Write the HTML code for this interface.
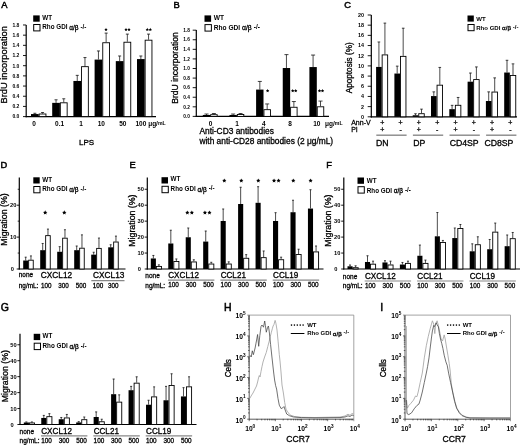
<!DOCTYPE html>
<html><head><meta charset="utf-8"><title>Figure</title>
<style>
html,body{margin:0;padding:0;background:#fff;}
body{width:520px;height:445px;overflow:hidden;font-family:"Liberation Sans",sans-serif;}
svg{display:block;font-family:"Liberation Sans",sans-serif;}
</style></head><body>
<svg width="520" height="445" viewBox="0 0 520 445" font-family="Liberation Sans, sans-serif">
<rect x="0" y="0" width="520" height="445" fill="#fff"/>
<g filter="url(#soft)">
<text x="1.20" y="7.80" font-size="9.3" fill="#000" stroke="#000" stroke-width="0.5">A</text>
<rect x="33.20" y="15.40" width="6.50" height="6.30" fill="#000"/>
<rect x="33.70" y="24.50" width="6.30" height="6.40" fill="#fff" stroke="#000" stroke-width="1.0"/>
<text x="42.30" y="20.00" font-size="6.3" text-anchor="start" font-weight="bold" fill="#000" >WT</text>
<g transform="translate(42.30,29.30) scale(0.1)"><text x="0" y="0" font-size="63.0" fill="#000" font-weight="bold">Rho GDI <tspan font-size="64.9" dy="6.0" font-weight="normal" stroke="#000" stroke-width="3.0">α/β</tspan><tspan font-size="63.0" dy="-11.0" dx="2.0"> -/-</tspan></text></g>
<line x1="26.20" y1="25.00" x2="26.20" y2="117.20" stroke="#000" stroke-width="1.2"/>
<line x1="25.60" y1="116.60" x2="156.00" y2="116.60" stroke="#000" stroke-width="1.2"/>
<line x1="23.00" y1="116.60" x2="26.20" y2="116.60" stroke="#000" stroke-width="0.9"/>
<text x="19.40" y="118.40" font-size="5.0" text-anchor="end" font-weight="bold" fill="#000" >0.0</text>
<line x1="23.00" y1="106.42" x2="26.20" y2="106.42" stroke="#000" stroke-width="0.9"/>
<text x="19.40" y="108.22" font-size="5.0" text-anchor="end" font-weight="bold" fill="#000" >0.2</text>
<line x1="23.00" y1="96.24" x2="26.20" y2="96.24" stroke="#000" stroke-width="0.9"/>
<text x="19.40" y="98.04" font-size="5.0" text-anchor="end" font-weight="bold" fill="#000" >0.4</text>
<line x1="23.00" y1="86.06" x2="26.20" y2="86.06" stroke="#000" stroke-width="0.9"/>
<text x="19.40" y="87.86" font-size="5.0" text-anchor="end" font-weight="bold" fill="#000" >0.6</text>
<line x1="23.00" y1="75.88" x2="26.20" y2="75.88" stroke="#000" stroke-width="0.9"/>
<text x="19.40" y="77.68" font-size="5.0" text-anchor="end" font-weight="bold" fill="#000" >0.8</text>
<line x1="23.00" y1="65.70" x2="26.20" y2="65.70" stroke="#000" stroke-width="0.9"/>
<text x="19.40" y="67.50" font-size="5.0" text-anchor="end" font-weight="bold" fill="#000" >1.0</text>
<line x1="23.00" y1="55.52" x2="26.20" y2="55.52" stroke="#000" stroke-width="0.9"/>
<text x="19.40" y="57.32" font-size="5.0" text-anchor="end" font-weight="bold" fill="#000" >1.2</text>
<line x1="23.00" y1="45.34" x2="26.20" y2="45.34" stroke="#000" stroke-width="0.9"/>
<text x="19.40" y="47.14" font-size="5.0" text-anchor="end" font-weight="bold" fill="#000" >1.4</text>
<line x1="23.00" y1="35.16" x2="26.20" y2="35.16" stroke="#000" stroke-width="0.9"/>
<text x="19.40" y="36.96" font-size="5.0" text-anchor="end" font-weight="bold" fill="#000" >1.6</text>
<line x1="23.00" y1="24.98" x2="26.20" y2="24.98" stroke="#000" stroke-width="0.9"/>
<text x="19.40" y="26.78" font-size="5.0" text-anchor="end" font-weight="bold" fill="#000" >1.8</text>
<text transform="translate(7.20,64.80) rotate(-90)" font-size="9.3" text-anchor="middle" font-weight="normal" fill="#000" stroke="#000" stroke-width="0.3">BrdU incorporation</text>
<rect x="31.00" y="114.05" width="7.70" height="2.54" fill="#000"/>
<rect x="39.15" y="114.00" width="6.80" height="2.60" fill="#fff" stroke="#000" stroke-width="0.9"/>
<line x1="34.85" y1="114.05" x2="34.85" y2="113.29" stroke="#111" stroke-width="0.75"/>
<line x1="33.35" y1="113.29" x2="36.35" y2="113.29" stroke="#111" stroke-width="0.8"/>
<line x1="42.55" y1="113.55" x2="42.55" y2="112.53" stroke="#111" stroke-width="0.75"/>
<line x1="41.05" y1="112.53" x2="44.05" y2="112.53" stroke="#111" stroke-width="0.8"/>
<rect x="52.20" y="102.86" width="7.70" height="13.74" fill="#000"/>
<rect x="60.35" y="102.80" width="6.80" height="13.80" fill="#fff" stroke="#000" stroke-width="0.9"/>
<line x1="56.05" y1="102.86" x2="56.05" y2="99.80" stroke="#111" stroke-width="0.75"/>
<line x1="54.55" y1="99.80" x2="57.55" y2="99.80" stroke="#111" stroke-width="0.8"/>
<line x1="63.75" y1="102.35" x2="63.75" y2="98.78" stroke="#111" stroke-width="0.75"/>
<line x1="62.25" y1="98.78" x2="65.25" y2="98.78" stroke="#111" stroke-width="0.8"/>
<rect x="73.40" y="80.97" width="7.70" height="35.63" fill="#000"/>
<rect x="81.55" y="66.66" width="6.80" height="49.94" fill="#fff" stroke="#000" stroke-width="0.9"/>
<line x1="77.25" y1="80.97" x2="77.25" y2="75.37" stroke="#111" stroke-width="0.75"/>
<line x1="75.75" y1="75.37" x2="78.75" y2="75.37" stroke="#111" stroke-width="0.8"/>
<line x1="84.95" y1="66.21" x2="84.95" y2="57.56" stroke="#111" stroke-width="0.75"/>
<line x1="83.45" y1="57.56" x2="86.45" y2="57.56" stroke="#111" stroke-width="0.8"/>
<rect x="94.60" y="59.59" width="7.70" height="57.01" fill="#000"/>
<rect x="102.75" y="42.74" width="6.80" height="73.86" fill="#fff" stroke="#000" stroke-width="0.9"/>
<line x1="98.45" y1="59.59" x2="98.45" y2="50.94" stroke="#111" stroke-width="0.75"/>
<line x1="96.95" y1="50.94" x2="99.95" y2="50.94" stroke="#111" stroke-width="0.8"/>
<line x1="106.15" y1="42.29" x2="106.15" y2="33.12" stroke="#111" stroke-width="0.75"/>
<line x1="104.65" y1="33.12" x2="107.65" y2="33.12" stroke="#111" stroke-width="0.8"/>
<rect x="115.80" y="61.12" width="7.70" height="55.48" fill="#000"/>
<rect x="123.95" y="42.23" width="6.80" height="74.37" fill="#fff" stroke="#000" stroke-width="0.9"/>
<line x1="119.65" y1="61.12" x2="119.65" y2="56.03" stroke="#111" stroke-width="0.75"/>
<line x1="118.15" y1="56.03" x2="121.15" y2="56.03" stroke="#111" stroke-width="0.8"/>
<line x1="127.35" y1="41.78" x2="127.35" y2="34.14" stroke="#111" stroke-width="0.75"/>
<line x1="125.85" y1="34.14" x2="128.85" y2="34.14" stroke="#111" stroke-width="0.8"/>
<rect x="137.00" y="59.08" width="7.70" height="57.52" fill="#000"/>
<rect x="145.15" y="40.19" width="6.80" height="76.41" fill="#fff" stroke="#000" stroke-width="0.9"/>
<line x1="140.85" y1="59.08" x2="140.85" y2="56.03" stroke="#111" stroke-width="0.75"/>
<line x1="139.35" y1="56.03" x2="142.35" y2="56.03" stroke="#111" stroke-width="0.8"/>
<line x1="148.55" y1="39.74" x2="148.55" y2="34.14" stroke="#111" stroke-width="0.75"/>
<line x1="147.05" y1="34.14" x2="150.05" y2="34.14" stroke="#111" stroke-width="0.8"/>
<text x="34.00" y="126.40" font-size="6.5" text-anchor="middle" font-weight="bold" fill="#000" >0</text>
<text x="59.60" y="126.40" font-size="6.5" text-anchor="middle" font-weight="bold" fill="#000" >0.1</text>
<text x="81.00" y="126.40" font-size="6.5" text-anchor="middle" font-weight="bold" fill="#000" >1</text>
<text x="101.30" y="126.40" font-size="6.5" text-anchor="middle" font-weight="bold" fill="#000" >10</text>
<text x="122.80" y="126.40" font-size="6.5" text-anchor="middle" font-weight="bold" fill="#000" >50</text>
<text x="135.5" y="126.4" font-size="6.5" font-weight="bold" fill="#000">100 μg/<tspan font-size="5.2" dy="-1.2">mL</tspan></text>
<polygon points="106.00,27.80 106.51,28.90 107.71,29.04 106.82,29.87 107.06,31.06 106.00,30.46 104.94,31.06 105.18,29.87 104.29,29.04 105.49,28.90" fill="#000"/>
<polygon points="126.00,27.80 126.51,28.90 127.71,29.04 126.82,29.87 127.06,31.06 126.00,30.46 124.94,31.06 125.18,29.87 124.29,29.04 125.49,28.90" fill="#000"/>
<polygon points="129.00,27.80 129.51,28.90 130.71,29.04 129.82,29.87 130.06,31.06 129.00,30.46 127.94,31.06 128.18,29.87 127.29,29.04 128.49,28.90" fill="#000"/>
<polygon points="147.30,27.80 147.81,28.90 149.01,29.04 148.12,29.87 148.36,31.06 147.30,30.46 146.24,31.06 146.48,29.87 145.59,29.04 146.79,28.90" fill="#000"/>
<polygon points="150.30,27.80 150.81,28.90 152.01,29.04 151.12,29.87 151.36,31.06 150.30,30.46 149.24,31.06 149.48,29.87 148.59,29.04 149.79,28.90" fill="#000"/>
<text x="79.00" y="145.30" font-size="8.0" text-anchor="start" font-weight="normal" fill="#000"  stroke="#000" stroke-width="0.3">LPS</text>
<text x="173.40" y="7.80" font-size="9.3" fill="#000" stroke="#000" stroke-width="0.5">B</text>
<rect x="204.50" y="15.40" width="6.60" height="6.40" fill="#000"/>
<rect x="205.00" y="24.60" width="6.40" height="6.50" fill="#fff" stroke="#000" stroke-width="1.0"/>
<text x="213.80" y="20.30" font-size="6.6" text-anchor="start" font-weight="bold" fill="#000" >WT</text>
<g transform="translate(213.80,29.70) scale(0.1)"><text x="0" y="0" font-size="66.0" fill="#000" font-weight="bold">Rho GDI <tspan font-size="68.0" dy="6.0" font-weight="normal" stroke="#000" stroke-width="3.0">α/β</tspan><tspan font-size="66.0" dy="-11.0" dx="2.0"> -/-</tspan></text></g>
<line x1="196.30" y1="30.00" x2="196.30" y2="117.00" stroke="#000" stroke-width="1.2"/>
<line x1="195.70" y1="116.40" x2="329.00" y2="116.40" stroke="#000" stroke-width="1.2"/>
<line x1="192.70" y1="116.40" x2="196.30" y2="116.40" stroke="#000" stroke-width="0.9"/>
<text x="189.90" y="118.13" font-size="4.8" text-anchor="end" font-weight="bold" fill="#000" >0.0</text>
<line x1="192.70" y1="106.82" x2="196.30" y2="106.82" stroke="#000" stroke-width="0.9"/>
<text x="189.90" y="108.55" font-size="4.8" text-anchor="end" font-weight="bold" fill="#000" >0.2</text>
<line x1="192.70" y1="97.24" x2="196.30" y2="97.24" stroke="#000" stroke-width="0.9"/>
<text x="189.90" y="98.97" font-size="4.8" text-anchor="end" font-weight="bold" fill="#000" >0.4</text>
<line x1="192.70" y1="87.66" x2="196.30" y2="87.66" stroke="#000" stroke-width="0.9"/>
<text x="189.90" y="89.39" font-size="4.8" text-anchor="end" font-weight="bold" fill="#000" >0.6</text>
<line x1="192.70" y1="78.08" x2="196.30" y2="78.08" stroke="#000" stroke-width="0.9"/>
<text x="189.90" y="79.81" font-size="4.8" text-anchor="end" font-weight="bold" fill="#000" >0.8</text>
<line x1="192.70" y1="68.50" x2="196.30" y2="68.50" stroke="#000" stroke-width="0.9"/>
<text x="189.90" y="70.23" font-size="4.8" text-anchor="end" font-weight="bold" fill="#000" >1.0</text>
<line x1="192.70" y1="58.92" x2="196.30" y2="58.92" stroke="#000" stroke-width="0.9"/>
<text x="189.90" y="60.65" font-size="4.8" text-anchor="end" font-weight="bold" fill="#000" >1.2</text>
<line x1="192.70" y1="49.34" x2="196.30" y2="49.34" stroke="#000" stroke-width="0.9"/>
<text x="189.90" y="51.07" font-size="4.8" text-anchor="end" font-weight="bold" fill="#000" >1.4</text>
<line x1="192.70" y1="39.76" x2="196.30" y2="39.76" stroke="#000" stroke-width="0.9"/>
<text x="189.90" y="41.49" font-size="4.8" text-anchor="end" font-weight="bold" fill="#000" >1.6</text>
<line x1="192.70" y1="30.18" x2="196.30" y2="30.18" stroke="#000" stroke-width="0.9"/>
<text x="189.90" y="31.91" font-size="4.8" text-anchor="end" font-weight="bold" fill="#000" >1.8</text>
<text transform="translate(178.20,68.00) rotate(-90)" font-size="8.6" text-anchor="middle" font-weight="normal" fill="#000" stroke="#000" stroke-width="0.3">BrdU incorporation</text>
<rect x="202.80" y="114.96" width="7.40" height="1.44" fill="#000"/>
<rect x="210.65" y="114.69" width="6.50" height="1.71" fill="#fff" stroke="#000" stroke-width="0.9"/>
<line x1="206.50" y1="114.96" x2="206.50" y2="114.01" stroke="#111" stroke-width="0.75"/>
<line x1="204.50" y1="114.01" x2="208.50" y2="114.01" stroke="#111" stroke-width="0.8"/>
<line x1="213.90" y1="114.24" x2="213.90" y2="113.53" stroke="#111" stroke-width="0.75"/>
<line x1="211.90" y1="113.53" x2="215.90" y2="113.53" stroke="#111" stroke-width="0.8"/>
<rect x="229.45" y="114.96" width="7.40" height="1.44" fill="#000"/>
<rect x="237.30" y="114.46" width="6.50" height="1.95" fill="#fff" stroke="#000" stroke-width="0.9"/>
<line x1="233.15" y1="114.96" x2="233.15" y2="114.01" stroke="#111" stroke-width="0.75"/>
<line x1="231.15" y1="114.01" x2="235.15" y2="114.01" stroke="#111" stroke-width="0.8"/>
<line x1="240.55" y1="114.01" x2="240.55" y2="113.53" stroke="#111" stroke-width="0.75"/>
<line x1="238.55" y1="113.53" x2="242.55" y2="113.53" stroke="#111" stroke-width="0.8"/>
<rect x="256.10" y="89.58" width="7.40" height="26.82" fill="#000"/>
<rect x="263.95" y="109.67" width="6.50" height="6.73" fill="#fff" stroke="#000" stroke-width="0.9"/>
<line x1="259.80" y1="89.58" x2="259.80" y2="81.43" stroke="#111" stroke-width="0.75"/>
<line x1="257.80" y1="81.43" x2="261.80" y2="81.43" stroke="#111" stroke-width="0.8"/>
<line x1="267.20" y1="109.22" x2="267.20" y2="103.95" stroke="#111" stroke-width="0.75"/>
<line x1="265.20" y1="103.95" x2="269.20" y2="103.95" stroke="#111" stroke-width="0.8"/>
<rect x="282.75" y="68.02" width="7.40" height="48.38" fill="#000"/>
<rect x="290.60" y="107.27" width="6.50" height="9.13" fill="#fff" stroke="#000" stroke-width="0.9"/>
<line x1="286.45" y1="68.02" x2="286.45" y2="54.61" stroke="#111" stroke-width="0.75"/>
<line x1="284.45" y1="54.61" x2="288.45" y2="54.61" stroke="#111" stroke-width="0.8"/>
<line x1="293.85" y1="106.82" x2="293.85" y2="101.55" stroke="#111" stroke-width="0.75"/>
<line x1="291.85" y1="101.55" x2="295.85" y2="101.55" stroke="#111" stroke-width="0.8"/>
<rect x="309.40" y="67.06" width="7.40" height="49.34" fill="#000"/>
<rect x="317.25" y="106.79" width="6.50" height="9.61" fill="#fff" stroke="#000" stroke-width="0.9"/>
<line x1="313.10" y1="67.06" x2="313.10" y2="55.09" stroke="#111" stroke-width="0.75"/>
<line x1="311.10" y1="55.09" x2="315.10" y2="55.09" stroke="#111" stroke-width="0.8"/>
<line x1="320.50" y1="106.34" x2="320.50" y2="101.07" stroke="#111" stroke-width="0.75"/>
<line x1="318.50" y1="101.07" x2="322.50" y2="101.07" stroke="#111" stroke-width="0.8"/>
<text x="210.50" y="126.10" font-size="6.5" text-anchor="middle" font-weight="bold" fill="#000" >0</text>
<text x="237.00" y="126.10" font-size="6.5" text-anchor="middle" font-weight="bold" fill="#000" >1</text>
<text x="263.80" y="126.10" font-size="6.5" text-anchor="middle" font-weight="bold" fill="#000" >4</text>
<text x="290.00" y="126.10" font-size="6.5" text-anchor="middle" font-weight="bold" fill="#000" >8</text>
<text x="316.80" y="126.10" font-size="6.5" text-anchor="middle" font-weight="bold" fill="#000" >10</text>
<text x="325" y="126.1" font-size="6.5" font-weight="bold" fill="#000">μg/<tspan font-size="5.2" dy="-1.2">mL</tspan></text>
<polygon points="267.60,89.00 268.11,90.10 269.31,90.24 268.42,91.07 268.66,92.26 267.60,91.66 266.54,92.26 266.78,91.07 265.89,90.24 267.09,90.10" fill="#000"/>
<polygon points="292.70,89.00 293.21,90.10 294.41,90.24 293.52,91.07 293.76,92.26 292.70,91.66 291.64,92.26 291.88,91.07 290.99,90.24 292.19,90.10" fill="#000"/>
<polygon points="295.70,89.00 296.21,90.10 297.41,90.24 296.52,91.07 296.76,92.26 295.70,91.66 294.64,92.26 294.88,91.07 293.99,90.24 295.19,90.10" fill="#000"/>
<polygon points="319.50,89.00 320.01,90.10 321.21,90.24 320.32,91.07 320.56,92.26 319.50,91.66 318.44,92.26 318.68,91.07 317.79,90.24 318.99,90.10" fill="#000"/>
<polygon points="322.50,89.00 323.01,90.10 324.21,90.24 323.32,91.07 323.56,92.26 322.50,91.66 321.44,92.26 321.68,91.07 320.79,90.24 321.99,90.10" fill="#000"/>
<text x="199.40" y="134.00" font-size="8.4" text-anchor="start" font-weight="normal" fill="#000"  stroke="#000" stroke-width="0.3">Anti-CD3 antibodies</text>
<text x="199.40" y="144.00" font-size="8.4" text-anchor="start" font-weight="normal" fill="#000"  stroke="#000" stroke-width="0.3">with anti-CD28 antibodies (2 μg/mL)</text>
<text x="344.30" y="7.80" font-size="9.3" fill="#000" stroke="#000" stroke-width="0.5">C</text>
<rect x="467.50" y="15.50" width="6.30" height="6.10" fill="#000"/>
<rect x="468.00" y="24.50" width="6.10" height="6.20" fill="#fff" stroke="#000" stroke-width="1.0"/>
<text x="476.20" y="20.60" font-size="6.05" text-anchor="start" font-weight="bold" fill="#000" >WT</text>
<g transform="translate(476.20,29.70) scale(0.1)"><text x="0" y="0" font-size="60.5" fill="#000" font-weight="bold">Rho GDI <tspan font-size="62.3" dy="6.0" font-weight="normal" stroke="#000" stroke-width="3.0">α/β</tspan><tspan font-size="60.5" dy="-11.0" dx="2.0"> -/-</tspan></text></g>
<line x1="371.30" y1="15.00" x2="371.30" y2="117.40" stroke="#000" stroke-width="1.2"/>
<line x1="370.70" y1="116.80" x2="517.00" y2="116.80" stroke="#000" stroke-width="1.2"/>
<line x1="367.70" y1="116.80" x2="371.30" y2="116.80" stroke="#000" stroke-width="0.9"/>
<text x="363.90" y="118.74" font-size="5.4" text-anchor="end" font-weight="bold" fill="#000" >0</text>
<line x1="367.70" y1="106.62" x2="371.30" y2="106.62" stroke="#000" stroke-width="0.9"/>
<text x="363.90" y="108.56" font-size="5.4" text-anchor="end" font-weight="bold" fill="#000" >2</text>
<line x1="367.70" y1="96.44" x2="371.30" y2="96.44" stroke="#000" stroke-width="0.9"/>
<text x="363.90" y="98.38" font-size="5.4" text-anchor="end" font-weight="bold" fill="#000" >4</text>
<line x1="367.70" y1="86.26" x2="371.30" y2="86.26" stroke="#000" stroke-width="0.9"/>
<text x="363.90" y="88.20" font-size="5.4" text-anchor="end" font-weight="bold" fill="#000" >6</text>
<line x1="367.70" y1="76.08" x2="371.30" y2="76.08" stroke="#000" stroke-width="0.9"/>
<text x="363.90" y="78.02" font-size="5.4" text-anchor="end" font-weight="bold" fill="#000" >8</text>
<line x1="367.70" y1="65.90" x2="371.30" y2="65.90" stroke="#000" stroke-width="0.9"/>
<text x="363.90" y="67.84" font-size="5.4" text-anchor="end" font-weight="bold" fill="#000" >10</text>
<line x1="367.70" y1="55.72" x2="371.30" y2="55.72" stroke="#000" stroke-width="0.9"/>
<text x="363.90" y="57.66" font-size="5.4" text-anchor="end" font-weight="bold" fill="#000" >12</text>
<line x1="367.70" y1="45.54" x2="371.30" y2="45.54" stroke="#000" stroke-width="0.9"/>
<text x="363.90" y="47.48" font-size="5.4" text-anchor="end" font-weight="bold" fill="#000" >14</text>
<line x1="367.70" y1="35.36" x2="371.30" y2="35.36" stroke="#000" stroke-width="0.9"/>
<text x="363.90" y="37.30" font-size="5.4" text-anchor="end" font-weight="bold" fill="#000" >16</text>
<line x1="367.70" y1="25.18" x2="371.30" y2="25.18" stroke="#000" stroke-width="0.9"/>
<text x="363.90" y="27.12" font-size="5.4" text-anchor="end" font-weight="bold" fill="#000" >18</text>
<line x1="367.70" y1="15.00" x2="371.30" y2="15.00" stroke="#000" stroke-width="0.9"/>
<text x="363.90" y="16.94" font-size="5.4" text-anchor="end" font-weight="bold" fill="#000" >20</text>
<text transform="translate(351.60,67.80) rotate(-90)" font-size="8.2" text-anchor="middle" font-weight="normal" fill="#000" stroke="#000" stroke-width="0.3">Apoptosis (%)</text>
<rect x="376.10" y="66.92" width="5.60" height="49.88" fill="#000"/>
<rect x="382.15" y="54.90" width="5.50" height="61.90" fill="#fff" stroke="#000" stroke-width="0.9"/>
<line x1="378.90" y1="66.92" x2="378.90" y2="41.98" stroke="#111" stroke-width="0.75"/>
<line x1="377.60" y1="41.98" x2="380.20" y2="41.98" stroke="#111" stroke-width="0.8"/>
<line x1="384.90" y1="54.45" x2="384.90" y2="23.14" stroke="#111" stroke-width="0.75"/>
<line x1="383.60" y1="23.14" x2="386.20" y2="23.14" stroke="#111" stroke-width="0.8"/>
<rect x="394.40" y="73.53" width="5.60" height="43.27" fill="#000"/>
<rect x="400.45" y="56.37" width="5.50" height="60.43" fill="#fff" stroke="#000" stroke-width="0.9"/>
<line x1="397.20" y1="73.53" x2="397.20" y2="66.15" stroke="#111" stroke-width="0.75"/>
<line x1="395.90" y1="66.15" x2="398.50" y2="66.15" stroke="#111" stroke-width="0.8"/>
<line x1="403.20" y1="55.92" x2="403.20" y2="28.23" stroke="#111" stroke-width="0.75"/>
<line x1="401.90" y1="28.23" x2="404.50" y2="28.23" stroke="#111" stroke-width="0.8"/>
<rect x="412.70" y="115.27" width="5.60" height="1.53" fill="#000"/>
<rect x="418.75" y="113.69" width="5.50" height="3.11" fill="#fff" stroke="#000" stroke-width="0.9"/>
<line x1="415.50" y1="115.27" x2="415.50" y2="113.75" stroke="#111" stroke-width="0.75"/>
<line x1="414.20" y1="113.75" x2="416.80" y2="113.75" stroke="#111" stroke-width="0.8"/>
<line x1="421.50" y1="113.24" x2="421.50" y2="109.16" stroke="#111" stroke-width="0.75"/>
<line x1="420.20" y1="109.16" x2="422.80" y2="109.16" stroke="#111" stroke-width="0.8"/>
<rect x="431.00" y="96.08" width="5.60" height="20.72" fill="#000"/>
<rect x="437.05" y="85.18" width="5.50" height="31.62" fill="#fff" stroke="#000" stroke-width="0.9"/>
<line x1="433.80" y1="96.08" x2="433.80" y2="91.86" stroke="#111" stroke-width="0.75"/>
<line x1="432.50" y1="91.86" x2="435.10" y2="91.86" stroke="#111" stroke-width="0.8"/>
<line x1="439.80" y1="84.73" x2="439.80" y2="67.43" stroke="#111" stroke-width="0.75"/>
<line x1="438.50" y1="67.43" x2="441.10" y2="67.43" stroke="#111" stroke-width="0.8"/>
<rect x="449.30" y="109.16" width="5.60" height="7.63" fill="#000"/>
<rect x="455.35" y="105.29" width="5.50" height="11.51" fill="#fff" stroke="#000" stroke-width="0.9"/>
<line x1="452.10" y1="109.16" x2="452.10" y2="105.35" stroke="#111" stroke-width="0.75"/>
<line x1="450.80" y1="105.35" x2="453.40" y2="105.35" stroke="#111" stroke-width="0.8"/>
<line x1="458.10" y1="104.84" x2="458.10" y2="97.46" stroke="#111" stroke-width="0.75"/>
<line x1="456.80" y1="97.46" x2="459.40" y2="97.46" stroke="#111" stroke-width="0.8"/>
<rect x="467.60" y="81.68" width="5.60" height="35.12" fill="#000"/>
<rect x="473.65" y="79.58" width="5.50" height="37.22" fill="#fff" stroke="#000" stroke-width="0.9"/>
<line x1="470.40" y1="81.68" x2="470.40" y2="73.03" stroke="#111" stroke-width="0.75"/>
<line x1="469.10" y1="73.03" x2="471.70" y2="73.03" stroke="#111" stroke-width="0.8"/>
<line x1="476.40" y1="79.13" x2="476.40" y2="66.92" stroke="#111" stroke-width="0.75"/>
<line x1="475.10" y1="66.92" x2="477.70" y2="66.92" stroke="#111" stroke-width="0.8"/>
<rect x="485.90" y="101.02" width="5.60" height="15.78" fill="#000"/>
<rect x="491.95" y="92.05" width="5.50" height="24.75" fill="#fff" stroke="#000" stroke-width="0.9"/>
<line x1="488.70" y1="101.02" x2="488.70" y2="91.86" stroke="#111" stroke-width="0.75"/>
<line x1="487.40" y1="91.86" x2="490.00" y2="91.86" stroke="#111" stroke-width="0.8"/>
<line x1="494.70" y1="91.60" x2="494.70" y2="77.86" stroke="#111" stroke-width="0.75"/>
<line x1="493.40" y1="77.86" x2="496.00" y2="77.86" stroke="#111" stroke-width="0.8"/>
<rect x="504.20" y="72.52" width="5.60" height="44.28" fill="#000"/>
<rect x="510.25" y="75.51" width="5.50" height="41.29" fill="#fff" stroke="#000" stroke-width="0.9"/>
<line x1="507.00" y1="72.52" x2="507.00" y2="60.30" stroke="#111" stroke-width="0.75"/>
<line x1="505.70" y1="60.30" x2="508.30" y2="60.30" stroke="#111" stroke-width="0.8"/>
<line x1="513.00" y1="75.06" x2="513.00" y2="63.86" stroke="#111" stroke-width="0.75"/>
<line x1="511.70" y1="63.86" x2="514.30" y2="63.86" stroke="#111" stroke-width="0.8"/>
<text x="351.20" y="124.60" font-size="7" text-anchor="start" font-weight="normal" fill="#000"  stroke="#000" stroke-width="0.28">Ann-V</text>
<text x="351.20" y="132.20" font-size="7" text-anchor="start" font-weight="normal" fill="#000"  stroke="#000" stroke-width="0.28">PI</text>
<text x="382.30" y="124.80" font-size="7" text-anchor="middle" font-weight="normal" fill="#000"  stroke="#000" stroke-width="0.28">+</text>
<text x="382.30" y="132.30" font-size="7" text-anchor="middle" font-weight="normal" fill="#000"  stroke="#000" stroke-width="0.28">+</text>
<text x="400.60" y="124.80" font-size="7" text-anchor="middle" font-weight="normal" fill="#000"  stroke="#000" stroke-width="0.28">+</text>
<text x="400.60" y="132.30" font-size="7" text-anchor="middle" font-weight="normal" fill="#000"  stroke="#000" stroke-width="0.28">-</text>
<text x="418.90" y="124.80" font-size="7" text-anchor="middle" font-weight="normal" fill="#000"  stroke="#000" stroke-width="0.28">+</text>
<text x="418.90" y="132.30" font-size="7" text-anchor="middle" font-weight="normal" fill="#000"  stroke="#000" stroke-width="0.28">+</text>
<text x="437.20" y="124.80" font-size="7" text-anchor="middle" font-weight="normal" fill="#000"  stroke="#000" stroke-width="0.28">+</text>
<text x="437.20" y="132.30" font-size="7" text-anchor="middle" font-weight="normal" fill="#000"  stroke="#000" stroke-width="0.28">-</text>
<text x="455.50" y="124.80" font-size="7" text-anchor="middle" font-weight="normal" fill="#000"  stroke="#000" stroke-width="0.28">+</text>
<text x="455.50" y="132.30" font-size="7" text-anchor="middle" font-weight="normal" fill="#000"  stroke="#000" stroke-width="0.28">+</text>
<text x="473.80" y="124.80" font-size="7" text-anchor="middle" font-weight="normal" fill="#000"  stroke="#000" stroke-width="0.28">+</text>
<text x="473.80" y="132.30" font-size="7" text-anchor="middle" font-weight="normal" fill="#000"  stroke="#000" stroke-width="0.28">-</text>
<text x="492.10" y="124.80" font-size="7" text-anchor="middle" font-weight="normal" fill="#000"  stroke="#000" stroke-width="0.28">+</text>
<text x="492.10" y="132.30" font-size="7" text-anchor="middle" font-weight="normal" fill="#000"  stroke="#000" stroke-width="0.28">+</text>
<text x="510.40" y="124.80" font-size="7" text-anchor="middle" font-weight="normal" fill="#000"  stroke="#000" stroke-width="0.28">+</text>
<text x="510.40" y="132.30" font-size="7" text-anchor="middle" font-weight="normal" fill="#000"  stroke="#000" stroke-width="0.28">-</text>
<line x1="376.30" y1="135.20" x2="406.60" y2="135.20" stroke="#888" stroke-width="1.4"/>
<text x="376.00" y="145.60" font-size="8.7" text-anchor="start" font-weight="normal" fill="#000"  stroke="#000" stroke-width="0.3">DN</text>
<line x1="412.90" y1="135.20" x2="443.20" y2="135.20" stroke="#888" stroke-width="1.4"/>
<text x="413.30" y="145.60" font-size="8.7" text-anchor="start" font-weight="normal" fill="#000"  stroke="#000" stroke-width="0.3">DP</text>
<line x1="449.50" y1="135.20" x2="479.80" y2="135.20" stroke="#888" stroke-width="1.4"/>
<text x="449.70" y="145.60" font-size="8.7" text-anchor="start" font-weight="normal" fill="#000"  stroke="#000" stroke-width="0.3">CD4SP</text>
<line x1="486.10" y1="135.20" x2="516.40" y2="135.20" stroke="#888" stroke-width="1.4"/>
<text x="484.40" y="145.60" font-size="8.7" text-anchor="start" font-weight="normal" fill="#000"  stroke="#000" stroke-width="0.3">CD8SP</text>
<text x="0.60" y="167.80" font-size="9.3" fill="#000" stroke="#000" stroke-width="0.5">D</text>
<rect x="33.30" y="177.30" width="6.40" height="6.20" fill="#000"/>
<rect x="33.80" y="186.50" width="6.20" height="6.30" fill="#fff" stroke="#000" stroke-width="1.0"/>
<text x="42.30" y="181.50" font-size="6.3" text-anchor="start" font-weight="bold" fill="#000" >WT</text>
<g transform="translate(42.30,191.10) scale(0.1)"><text x="0" y="0" font-size="63.0" fill="#000" font-weight="bold">Rho GDI <tspan font-size="64.9" dy="6.0" font-weight="normal" stroke="#000" stroke-width="3.0">α/β</tspan><tspan font-size="63.0" dy="-11.0" dx="2.0"> -/-</tspan></text></g>
<line x1="19.30" y1="177.50" x2="19.30" y2="269.60" stroke="#000" stroke-width="1.2"/>
<line x1="18.70" y1="269.00" x2="125.50" y2="269.00" stroke="#000" stroke-width="1.2"/>
<line x1="16.70" y1="269.00" x2="19.30" y2="269.00" stroke="#000" stroke-width="0.9"/>
<text x="14.00" y="271.05" font-size="5.7" text-anchor="end" font-weight="bold" fill="#000" >0</text>
<line x1="16.70" y1="237.10" x2="19.30" y2="237.10" stroke="#000" stroke-width="0.9"/>
<text x="16.30" y="239.15" font-size="5.7" text-anchor="end" font-weight="bold" fill="#000" >10</text>
<line x1="16.70" y1="205.20" x2="19.30" y2="205.20" stroke="#000" stroke-width="0.9"/>
<text x="16.30" y="207.25" font-size="5.7" text-anchor="end" font-weight="bold" fill="#000" >20</text>
<line x1="17.70" y1="253.05" x2="19.30" y2="253.05" stroke="#000" stroke-width="0.8"/>
<line x1="17.70" y1="221.15" x2="19.30" y2="221.15" stroke="#000" stroke-width="0.8"/>
<line x1="17.70" y1="189.25" x2="19.30" y2="189.25" stroke="#000" stroke-width="0.8"/>
<text transform="translate(6.50,219.50) rotate(-90)" font-size="8.8" text-anchor="middle" font-weight="normal" fill="#000" stroke="#000" stroke-width="0.3">Migration (%)</text>
<rect x="23.20" y="260.51" width="5.00" height="8.49" fill="#000"/>
<rect x="28.65" y="260.20" width="4.60" height="8.80" fill="#fff" stroke="#000" stroke-width="0.9"/>
<line x1="25.70" y1="260.51" x2="25.70" y2="257.20" stroke="#111" stroke-width="0.75"/>
<line x1="24.70" y1="257.20" x2="26.70" y2="257.20" stroke="#111" stroke-width="0.8"/>
<line x1="30.95" y1="259.75" x2="30.95" y2="255.92" stroke="#111" stroke-width="0.75"/>
<line x1="29.95" y1="255.92" x2="31.95" y2="255.92" stroke="#111" stroke-width="0.8"/>
<rect x="40.20" y="250.18" width="5.00" height="18.82" fill="#000"/>
<rect x="45.65" y="235.64" width="4.60" height="33.36" fill="#fff" stroke="#000" stroke-width="0.9"/>
<line x1="42.70" y1="250.18" x2="42.70" y2="243.48" stroke="#111" stroke-width="0.75"/>
<line x1="41.70" y1="243.48" x2="43.70" y2="243.48" stroke="#111" stroke-width="0.8"/>
<line x1="47.95" y1="235.19" x2="47.95" y2="229.12" stroke="#111" stroke-width="0.75"/>
<line x1="46.95" y1="229.12" x2="48.95" y2="229.12" stroke="#111" stroke-width="0.8"/>
<rect x="57.20" y="251.77" width="5.00" height="17.23" fill="#000"/>
<rect x="62.65" y="238.19" width="4.60" height="30.81" fill="#fff" stroke="#000" stroke-width="0.9"/>
<line x1="59.70" y1="251.77" x2="59.70" y2="246.67" stroke="#111" stroke-width="0.75"/>
<line x1="58.70" y1="246.67" x2="60.70" y2="246.67" stroke="#111" stroke-width="0.8"/>
<line x1="64.95" y1="237.74" x2="64.95" y2="229.76" stroke="#111" stroke-width="0.75"/>
<line x1="63.95" y1="229.76" x2="65.95" y2="229.76" stroke="#111" stroke-width="0.8"/>
<rect x="74.20" y="250.18" width="5.00" height="18.82" fill="#000"/>
<rect x="79.65" y="248.20" width="4.60" height="20.80" fill="#fff" stroke="#000" stroke-width="0.9"/>
<line x1="76.70" y1="250.18" x2="76.70" y2="246.03" stroke="#111" stroke-width="0.75"/>
<line x1="75.70" y1="246.03" x2="77.70" y2="246.03" stroke="#111" stroke-width="0.8"/>
<line x1="81.95" y1="247.75" x2="81.95" y2="234.87" stroke="#111" stroke-width="0.75"/>
<line x1="80.95" y1="234.87" x2="82.95" y2="234.87" stroke="#111" stroke-width="0.8"/>
<rect x="91.20" y="254.65" width="5.00" height="14.36" fill="#000"/>
<rect x="96.65" y="248.40" width="4.60" height="20.60" fill="#fff" stroke="#000" stroke-width="0.9"/>
<line x1="93.70" y1="254.65" x2="93.70" y2="252.25" stroke="#111" stroke-width="0.75"/>
<line x1="92.70" y1="252.25" x2="94.70" y2="252.25" stroke="#111" stroke-width="0.8"/>
<line x1="98.95" y1="247.95" x2="98.95" y2="238.06" stroke="#111" stroke-width="0.75"/>
<line x1="97.95" y1="238.06" x2="99.95" y2="238.06" stroke="#111" stroke-width="0.8"/>
<rect x="108.20" y="247.31" width="5.00" height="21.69" fill="#000"/>
<rect x="113.65" y="242.02" width="4.60" height="26.98" fill="#fff" stroke="#000" stroke-width="0.9"/>
<line x1="110.70" y1="247.31" x2="110.70" y2="244.76" stroke="#111" stroke-width="0.75"/>
<line x1="109.70" y1="244.76" x2="111.70" y2="244.76" stroke="#111" stroke-width="0.8"/>
<line x1="115.95" y1="241.57" x2="115.95" y2="236.14" stroke="#111" stroke-width="0.75"/>
<line x1="114.95" y1="236.14" x2="116.95" y2="236.14" stroke="#111" stroke-width="0.8"/>
<polygon points="45.20,210.30 45.85,211.71 47.39,211.89 46.25,212.94 46.55,214.46 45.20,213.70 43.85,214.46 44.15,212.94 43.01,211.89 44.55,211.71" fill="#000"/>
<polygon points="64.30,210.30 64.95,211.71 66.49,211.89 65.35,212.94 65.65,214.46 64.30,213.70 62.95,214.46 63.25,212.94 62.11,211.89 63.65,211.71" fill="#000"/>
<text x="18.80" y="277.40" font-size="6.4" text-anchor="start" font-weight="normal" fill="#000"  stroke="#000" stroke-width="0.28">none</text>
<text x="40.80" y="277.90" font-size="8.3" text-anchor="start" font-weight="normal" fill="#000"  stroke="#000" stroke-width="0.3">CXCL12</text>
<text x="93.10" y="277.90" font-size="8.3" text-anchor="start" font-weight="normal" fill="#000"  stroke="#000" stroke-width="0.3">CXCL13</text>
<line x1="91.30" y1="280.60" x2="124.50" y2="280.60" stroke="#888" stroke-width="1.2"/>
<text x="18.80" y="287.50" font-size="6.4" text-anchor="start" font-weight="normal" fill="#000"  stroke="#000" stroke-width="0.28">ng/mL:</text>
<text x="46.30" y="287.50" font-size="6.3" text-anchor="middle" font-weight="normal" fill="#000"  stroke="#000" stroke-width="0.28">100</text>
<text x="63.60" y="287.50" font-size="6.3" text-anchor="middle" font-weight="normal" fill="#000"  stroke="#000" stroke-width="0.28">300</text>
<text x="81.00" y="287.50" font-size="6.3" text-anchor="middle" font-weight="normal" fill="#000"  stroke="#000" stroke-width="0.28">500</text>
<text x="98.00" y="287.50" font-size="6.3" text-anchor="middle" font-weight="normal" fill="#000"  stroke="#000" stroke-width="0.28">100</text>
<text x="113.30" y="287.50" font-size="6.3" text-anchor="middle" font-weight="normal" fill="#000"  stroke="#000" stroke-width="0.28">300</text>
<text x="129.40" y="167.80" font-size="9.3" fill="#000" stroke="#000" stroke-width="0.5">E</text>
<rect x="161.50" y="177.20" width="6.50" height="6.30" fill="#000"/>
<rect x="162.00" y="186.30" width="6.30" height="6.40" fill="#fff" stroke="#000" stroke-width="1.0"/>
<text x="170.60" y="181.00" font-size="6.3" text-anchor="start" font-weight="bold" fill="#000" >WT</text>
<g transform="translate(170.60,190.90) scale(0.1)"><text x="0" y="0" font-size="63.0" fill="#000" font-weight="bold">Rho GDI <tspan font-size="64.9" dy="6.0" font-weight="normal" stroke="#000" stroke-width="3.0">α/β</tspan><tspan font-size="63.0" dy="-11.0" dx="2.0"> -/-</tspan></text></g>
<line x1="147.30" y1="177.50" x2="147.30" y2="269.60" stroke="#000" stroke-width="1.2"/>
<line x1="146.70" y1="269.00" x2="323.50" y2="269.00" stroke="#000" stroke-width="1.2"/>
<line x1="144.70" y1="269.00" x2="147.30" y2="269.00" stroke="#000" stroke-width="0.9"/>
<text x="140.90" y="271.05" font-size="5.7" text-anchor="end" font-weight="bold" fill="#000" >0</text>
<line x1="144.70" y1="253.05" x2="147.30" y2="253.05" stroke="#000" stroke-width="0.9"/>
<text x="143.90" y="255.10" font-size="5.7" text-anchor="end" font-weight="bold" fill="#000" >10</text>
<line x1="144.70" y1="237.10" x2="147.30" y2="237.10" stroke="#000" stroke-width="0.9"/>
<text x="143.90" y="239.15" font-size="5.7" text-anchor="end" font-weight="bold" fill="#000" >20</text>
<line x1="144.70" y1="221.15" x2="147.30" y2="221.15" stroke="#000" stroke-width="0.9"/>
<text x="143.90" y="223.20" font-size="5.7" text-anchor="end" font-weight="bold" fill="#000" >30</text>
<line x1="144.70" y1="205.20" x2="147.30" y2="205.20" stroke="#000" stroke-width="0.9"/>
<text x="143.90" y="207.25" font-size="5.7" text-anchor="end" font-weight="bold" fill="#000" >40</text>
<line x1="144.70" y1="189.25" x2="147.30" y2="189.25" stroke="#000" stroke-width="0.9"/>
<text x="143.90" y="191.30" font-size="5.7" text-anchor="end" font-weight="bold" fill="#000" >50</text>
<text transform="translate(134.90,220.60) rotate(-90)" font-size="8.8" text-anchor="middle" font-weight="normal" fill="#000" stroke="#000" stroke-width="0.3">Migration (%)</text>
<rect x="150.80" y="258.47" width="5.10" height="10.53" fill="#000"/>
<rect x="156.35" y="266.42" width="5.10" height="2.58" fill="#fff" stroke="#000" stroke-width="0.9"/>
<line x1="153.35" y1="258.47" x2="153.35" y2="255.44" stroke="#111" stroke-width="0.75"/>
<line x1="152.35" y1="255.44" x2="154.35" y2="255.44" stroke="#111" stroke-width="0.8"/>
<line x1="158.90" y1="265.97" x2="158.90" y2="264.85" stroke="#111" stroke-width="0.75"/>
<line x1="157.90" y1="264.85" x2="159.90" y2="264.85" stroke="#111" stroke-width="0.8"/>
<rect x="168.26" y="243.48" width="5.10" height="25.52" fill="#000"/>
<rect x="173.81" y="261.47" width="5.10" height="7.52" fill="#fff" stroke="#000" stroke-width="0.9"/>
<line x1="170.81" y1="243.48" x2="170.81" y2="230.24" stroke="#111" stroke-width="0.75"/>
<line x1="169.81" y1="230.24" x2="171.81" y2="230.24" stroke="#111" stroke-width="0.8"/>
<line x1="176.36" y1="261.02" x2="176.36" y2="258.95" stroke="#111" stroke-width="0.75"/>
<line x1="175.36" y1="258.95" x2="177.36" y2="258.95" stroke="#111" stroke-width="0.8"/>
<rect x="185.72" y="237.26" width="5.10" height="31.74" fill="#000"/>
<rect x="191.27" y="261.95" width="5.10" height="7.05" fill="#fff" stroke="#000" stroke-width="0.9"/>
<line x1="188.27" y1="237.26" x2="188.27" y2="228.01" stroke="#111" stroke-width="0.75"/>
<line x1="187.27" y1="228.01" x2="189.27" y2="228.01" stroke="#111" stroke-width="0.8"/>
<line x1="193.82" y1="261.50" x2="193.82" y2="259.75" stroke="#111" stroke-width="0.75"/>
<line x1="192.82" y1="259.75" x2="194.82" y2="259.75" stroke="#111" stroke-width="0.8"/>
<rect x="203.18" y="241.57" width="5.10" height="27.43" fill="#000"/>
<rect x="208.73" y="264.03" width="5.10" height="4.97" fill="#fff" stroke="#000" stroke-width="0.9"/>
<line x1="205.73" y1="241.57" x2="205.73" y2="231.04" stroke="#111" stroke-width="0.75"/>
<line x1="204.73" y1="231.04" x2="206.73" y2="231.04" stroke="#111" stroke-width="0.8"/>
<line x1="211.28" y1="263.58" x2="211.28" y2="262.30" stroke="#111" stroke-width="0.75"/>
<line x1="210.28" y1="262.30" x2="212.28" y2="262.30" stroke="#111" stroke-width="0.8"/>
<rect x="220.64" y="220.99" width="5.10" height="48.01" fill="#000"/>
<rect x="226.19" y="264.03" width="5.10" height="4.97" fill="#fff" stroke="#000" stroke-width="0.9"/>
<line x1="223.19" y1="220.99" x2="223.19" y2="209.03" stroke="#111" stroke-width="0.75"/>
<line x1="222.19" y1="209.03" x2="224.19" y2="209.03" stroke="#111" stroke-width="0.8"/>
<line x1="228.74" y1="263.58" x2="228.74" y2="261.82" stroke="#111" stroke-width="0.75"/>
<line x1="227.74" y1="261.82" x2="229.74" y2="261.82" stroke="#111" stroke-width="0.8"/>
<rect x="238.10" y="204.00" width="5.10" height="65.00" fill="#000"/>
<rect x="243.65" y="258.28" width="5.10" height="10.71" fill="#fff" stroke="#000" stroke-width="0.9"/>
<line x1="240.65" y1="204.00" x2="240.65" y2="187.26" stroke="#111" stroke-width="0.75"/>
<line x1="239.65" y1="187.26" x2="241.65" y2="187.26" stroke="#111" stroke-width="0.8"/>
<line x1="246.20" y1="257.83" x2="246.20" y2="254.65" stroke="#111" stroke-width="0.75"/>
<line x1="245.20" y1="254.65" x2="247.20" y2="254.65" stroke="#111" stroke-width="0.8"/>
<rect x="255.56" y="202.81" width="5.10" height="66.19" fill="#000"/>
<rect x="261.11" y="257.65" width="5.10" height="11.35" fill="#fff" stroke="#000" stroke-width="0.9"/>
<line x1="258.11" y1="202.81" x2="258.11" y2="186.70" stroke="#111" stroke-width="0.75"/>
<line x1="257.11" y1="186.70" x2="259.11" y2="186.70" stroke="#111" stroke-width="0.8"/>
<line x1="263.66" y1="257.20" x2="263.66" y2="250.98" stroke="#111" stroke-width="0.75"/>
<line x1="262.66" y1="250.98" x2="264.66" y2="250.98" stroke="#111" stroke-width="0.8"/>
<rect x="273.02" y="220.99" width="5.10" height="48.01" fill="#000"/>
<rect x="278.57" y="259.72" width="5.10" height="9.28" fill="#fff" stroke="#000" stroke-width="0.9"/>
<line x1="275.57" y1="220.99" x2="275.57" y2="212.70" stroke="#111" stroke-width="0.75"/>
<line x1="274.57" y1="212.70" x2="276.57" y2="212.70" stroke="#111" stroke-width="0.8"/>
<line x1="281.12" y1="259.27" x2="281.12" y2="257.20" stroke="#111" stroke-width="0.75"/>
<line x1="280.12" y1="257.20" x2="282.12" y2="257.20" stroke="#111" stroke-width="0.8"/>
<rect x="290.48" y="212.22" width="5.10" height="56.78" fill="#000"/>
<rect x="296.03" y="254.46" width="5.10" height="14.54" fill="#fff" stroke="#000" stroke-width="0.9"/>
<line x1="293.03" y1="212.22" x2="293.03" y2="200.26" stroke="#111" stroke-width="0.75"/>
<line x1="292.03" y1="200.26" x2="294.03" y2="200.26" stroke="#111" stroke-width="0.8"/>
<line x1="298.58" y1="254.01" x2="298.58" y2="249.22" stroke="#111" stroke-width="0.75"/>
<line x1="297.58" y1="249.22" x2="299.58" y2="249.22" stroke="#111" stroke-width="0.8"/>
<rect x="307.94" y="208.55" width="5.10" height="60.45" fill="#000"/>
<rect x="313.49" y="251.91" width="5.10" height="17.09" fill="#fff" stroke="#000" stroke-width="0.9"/>
<line x1="310.49" y1="208.55" x2="310.49" y2="189.73" stroke="#111" stroke-width="0.75"/>
<line x1="309.49" y1="189.73" x2="311.49" y2="189.73" stroke="#111" stroke-width="0.8"/>
<line x1="316.04" y1="251.46" x2="316.04" y2="246.03" stroke="#111" stroke-width="0.75"/>
<line x1="315.04" y1="246.03" x2="317.04" y2="246.03" stroke="#111" stroke-width="0.8"/>
<text x="145.30" y="278.00" font-size="6.5" text-anchor="start" font-weight="normal" fill="#000"  stroke="#000" stroke-width="0.28">none</text>
<text x="145.30" y="287.50" font-size="6.5" text-anchor="start" font-weight="normal" fill="#000"  stroke="#000" stroke-width="0.28">ng/mL:</text>
<text x="168.26" y="278.00" font-size="8.15" text-anchor="start" font-weight="normal" fill="#000"  stroke="#000" stroke-width="0.3">CXCL12</text>
<line x1="167.96" y1="280.10" x2="214.38" y2="280.10" stroke="#888" stroke-width="1.2"/>
<text x="173.56" y="287.20" font-size="6.4" text-anchor="middle" font-weight="normal" fill="#000"  stroke="#000" stroke-width="0.28">100</text>
<text x="191.02" y="287.20" font-size="6.4" text-anchor="middle" font-weight="normal" fill="#000"  stroke="#000" stroke-width="0.28">300</text>
<text x="208.48" y="287.20" font-size="6.4" text-anchor="middle" font-weight="normal" fill="#000"  stroke="#000" stroke-width="0.28">500</text>
<text x="220.64" y="278.00" font-size="8.15" text-anchor="start" font-weight="normal" fill="#000"  stroke="#000" stroke-width="0.3">CCL21</text>
<line x1="220.34" y1="280.10" x2="266.76" y2="280.10" stroke="#888" stroke-width="1.2"/>
<text x="225.94" y="287.20" font-size="6.4" text-anchor="middle" font-weight="normal" fill="#000"  stroke="#000" stroke-width="0.28">100</text>
<text x="243.40" y="287.20" font-size="6.4" text-anchor="middle" font-weight="normal" fill="#000"  stroke="#000" stroke-width="0.28">300</text>
<text x="260.86" y="287.20" font-size="6.4" text-anchor="middle" font-weight="normal" fill="#000"  stroke="#000" stroke-width="0.28">500</text>
<text x="273.02" y="278.00" font-size="8.15" text-anchor="start" font-weight="normal" fill="#000"  stroke="#000" stroke-width="0.3">CCL19</text>
<line x1="272.72" y1="280.10" x2="319.14" y2="280.10" stroke="#888" stroke-width="1.2"/>
<text x="278.32" y="287.20" font-size="6.4" text-anchor="middle" font-weight="normal" fill="#000"  stroke="#000" stroke-width="0.28">100</text>
<text x="295.78" y="287.20" font-size="6.4" text-anchor="middle" font-weight="normal" fill="#000"  stroke="#000" stroke-width="0.28">300</text>
<text x="313.24" y="287.20" font-size="6.4" text-anchor="middle" font-weight="normal" fill="#000"  stroke="#000" stroke-width="0.28">500</text>
<polygon points="187.34,210.40 187.97,211.75 189.44,211.92 188.35,212.93 188.64,214.38 187.34,213.66 186.05,214.38 186.34,212.93 185.25,211.92 186.72,211.75" fill="#000"/>
<polygon points="191.85,210.40 192.48,211.75 193.95,211.92 192.86,212.93 193.15,214.38 191.85,213.66 190.56,214.38 190.85,212.93 189.76,211.92 191.23,211.75" fill="#000"/>
<polygon points="204.94,210.40 205.57,211.75 207.04,211.92 205.95,212.93 206.24,214.38 204.94,213.66 203.65,214.38 203.94,212.93 202.85,211.92 204.32,211.75" fill="#000"/>
<polygon points="209.45,210.40 210.08,211.75 211.55,211.92 210.46,212.93 210.75,214.38 209.45,213.66 208.16,214.38 208.45,212.93 207.36,211.92 208.83,211.75" fill="#000"/>
<polygon points="224.30,178.40 224.92,179.75 226.39,179.92 225.30,180.93 225.59,182.38 224.30,181.66 223.01,182.38 223.30,180.93 222.21,179.92 223.68,179.75" fill="#000"/>
<polygon points="241.30,178.40 241.92,179.75 243.39,179.92 242.30,180.93 242.59,182.38 241.30,181.66 240.01,182.38 240.30,180.93 239.21,179.92 240.68,179.75" fill="#000"/>
<polygon points="258.30,178.40 258.92,179.75 260.39,179.92 259.30,180.93 259.59,182.38 258.30,181.66 257.01,182.38 257.30,180.93 256.21,179.92 257.68,179.75" fill="#000"/>
<polygon points="274.05,178.40 274.67,179.75 276.14,179.92 275.05,180.93 275.34,182.38 274.05,181.66 272.75,182.38 273.04,180.93 271.95,179.92 273.42,179.75" fill="#000"/>
<polygon points="278.56,178.40 279.18,179.75 280.65,179.92 279.56,180.93 279.85,182.38 278.56,181.66 277.26,182.38 277.55,180.93 276.46,179.92 277.93,179.75" fill="#000"/>
<polygon points="293.30,178.40 293.92,179.75 295.39,179.92 294.30,180.93 294.59,182.38 293.30,181.66 292.01,182.38 292.30,180.93 291.21,179.92 292.68,179.75" fill="#000"/>
<polygon points="310.60,178.40 311.22,179.75 312.69,179.92 311.60,180.93 311.89,182.38 310.60,181.66 309.31,182.38 309.60,180.93 308.51,179.92 309.98,179.75" fill="#000"/>
<text x="326.20" y="167.80" font-size="9.3" fill="#000" stroke="#000" stroke-width="0.5">F</text>
<rect x="357.50" y="177.50" width="6.50" height="6.30" fill="#000"/>
<rect x="358.00" y="186.70" width="6.30" height="6.40" fill="#fff" stroke="#000" stroke-width="1.0"/>
<text x="366.80" y="182.60" font-size="6.3" text-anchor="start" font-weight="bold" fill="#000" >WT</text>
<g transform="translate(366.80,192.50) scale(0.1)"><text x="0" y="0" font-size="63.0" fill="#000" font-weight="bold">Rho GDI <tspan font-size="64.9" dy="6.0" font-weight="normal" stroke="#000" stroke-width="3.0">α/β</tspan><tspan font-size="63.0" dy="-11.0" dx="2.0"> -/-</tspan></text></g>
<line x1="343.80" y1="177.50" x2="343.80" y2="269.60" stroke="#000" stroke-width="1.2"/>
<line x1="343.20" y1="269.00" x2="520.00" y2="269.00" stroke="#000" stroke-width="1.2"/>
<line x1="341.20" y1="269.00" x2="343.80" y2="269.00" stroke="#000" stroke-width="0.9"/>
<text x="337.40" y="271.05" font-size="5.7" text-anchor="end" font-weight="bold" fill="#000" >0</text>
<line x1="341.20" y1="253.05" x2="343.80" y2="253.05" stroke="#000" stroke-width="0.9"/>
<text x="340.40" y="255.10" font-size="5.7" text-anchor="end" font-weight="bold" fill="#000" >10</text>
<line x1="341.20" y1="237.10" x2="343.80" y2="237.10" stroke="#000" stroke-width="0.9"/>
<text x="340.40" y="239.15" font-size="5.7" text-anchor="end" font-weight="bold" fill="#000" >20</text>
<line x1="341.20" y1="221.15" x2="343.80" y2="221.15" stroke="#000" stroke-width="0.9"/>
<text x="340.40" y="223.20" font-size="5.7" text-anchor="end" font-weight="bold" fill="#000" >30</text>
<line x1="341.20" y1="205.20" x2="343.80" y2="205.20" stroke="#000" stroke-width="0.9"/>
<text x="340.40" y="207.25" font-size="5.7" text-anchor="end" font-weight="bold" fill="#000" >40</text>
<line x1="341.20" y1="189.25" x2="343.80" y2="189.25" stroke="#000" stroke-width="0.9"/>
<text x="340.40" y="191.30" font-size="5.7" text-anchor="end" font-weight="bold" fill="#000" >50</text>
<text transform="translate(331.20,220.60) rotate(-90)" font-size="8.8" text-anchor="middle" font-weight="normal" fill="#000" stroke="#000" stroke-width="0.3">Migration (%)</text>
<rect x="347.50" y="266.29" width="5.10" height="2.71" fill="#000"/>
<rect x="353.05" y="267.70" width="5.10" height="1.30" fill="#fff" stroke="#000" stroke-width="0.9"/>
<line x1="350.05" y1="266.29" x2="350.05" y2="265.01" stroke="#111" stroke-width="0.75"/>
<line x1="349.05" y1="265.01" x2="351.05" y2="265.01" stroke="#111" stroke-width="0.8"/>
<line x1="355.60" y1="267.25" x2="355.60" y2="265.81" stroke="#111" stroke-width="0.75"/>
<line x1="354.60" y1="265.81" x2="356.60" y2="265.81" stroke="#111" stroke-width="0.8"/>
<rect x="364.96" y="261.98" width="5.10" height="7.02" fill="#000"/>
<rect x="370.51" y="264.19" width="5.10" height="4.81" fill="#fff" stroke="#000" stroke-width="0.9"/>
<line x1="367.51" y1="261.98" x2="367.51" y2="255.76" stroke="#111" stroke-width="0.75"/>
<line x1="366.51" y1="255.76" x2="368.51" y2="255.76" stroke="#111" stroke-width="0.8"/>
<line x1="373.06" y1="263.74" x2="373.06" y2="261.18" stroke="#111" stroke-width="0.75"/>
<line x1="372.06" y1="261.18" x2="374.06" y2="261.18" stroke="#111" stroke-width="0.8"/>
<rect x="382.42" y="262.46" width="5.10" height="6.54" fill="#000"/>
<rect x="387.97" y="264.98" width="5.10" height="4.02" fill="#fff" stroke="#000" stroke-width="0.9"/>
<line x1="384.97" y1="262.46" x2="384.97" y2="260.71" stroke="#111" stroke-width="0.75"/>
<line x1="383.97" y1="260.71" x2="385.97" y2="260.71" stroke="#111" stroke-width="0.8"/>
<line x1="390.52" y1="264.53" x2="390.52" y2="261.18" stroke="#111" stroke-width="0.75"/>
<line x1="389.52" y1="261.18" x2="391.52" y2="261.18" stroke="#111" stroke-width="0.8"/>
<rect x="399.88" y="264.53" width="5.10" height="4.47" fill="#000"/>
<rect x="405.43" y="263.39" width="5.10" height="5.61" fill="#fff" stroke="#000" stroke-width="0.9"/>
<line x1="402.43" y1="264.53" x2="402.43" y2="262.46" stroke="#111" stroke-width="0.75"/>
<line x1="401.43" y1="262.46" x2="403.43" y2="262.46" stroke="#111" stroke-width="0.8"/>
<line x1="407.98" y1="262.94" x2="407.98" y2="261.18" stroke="#111" stroke-width="0.75"/>
<line x1="406.98" y1="261.18" x2="408.98" y2="261.18" stroke="#111" stroke-width="0.8"/>
<rect x="417.34" y="255.76" width="5.10" height="13.24" fill="#000"/>
<rect x="422.89" y="263.39" width="5.10" height="5.61" fill="#fff" stroke="#000" stroke-width="0.9"/>
<line x1="419.89" y1="255.76" x2="419.89" y2="245.07" stroke="#111" stroke-width="0.75"/>
<line x1="418.89" y1="245.07" x2="420.89" y2="245.07" stroke="#111" stroke-width="0.8"/>
<line x1="425.44" y1="262.94" x2="425.44" y2="260.07" stroke="#111" stroke-width="0.75"/>
<line x1="424.44" y1="260.07" x2="426.44" y2="260.07" stroke="#111" stroke-width="0.8"/>
<rect x="434.80" y="236.30" width="5.10" height="32.70" fill="#000"/>
<rect x="440.35" y="242.49" width="5.10" height="26.51" fill="#fff" stroke="#000" stroke-width="0.9"/>
<line x1="437.35" y1="236.30" x2="437.35" y2="212.54" stroke="#111" stroke-width="0.75"/>
<line x1="436.35" y1="212.54" x2="438.35" y2="212.54" stroke="#111" stroke-width="0.8"/>
<line x1="442.90" y1="242.04" x2="442.90" y2="240.45" stroke="#111" stroke-width="0.75"/>
<line x1="441.90" y1="240.45" x2="443.90" y2="240.45" stroke="#111" stroke-width="0.8"/>
<rect x="452.26" y="238.06" width="5.10" height="30.94" fill="#000"/>
<rect x="457.81" y="228.46" width="5.10" height="40.54" fill="#fff" stroke="#000" stroke-width="0.9"/>
<line x1="454.81" y1="238.06" x2="454.81" y2="228.01" stroke="#111" stroke-width="0.75"/>
<line x1="453.81" y1="228.01" x2="455.81" y2="228.01" stroke="#111" stroke-width="0.8"/>
<line x1="460.36" y1="228.01" x2="460.36" y2="224.50" stroke="#111" stroke-width="0.75"/>
<line x1="459.36" y1="224.50" x2="461.36" y2="224.50" stroke="#111" stroke-width="0.8"/>
<rect x="469.72" y="251.30" width="5.10" height="17.70" fill="#000"/>
<rect x="475.27" y="244.73" width="5.10" height="24.27" fill="#fff" stroke="#000" stroke-width="0.9"/>
<line x1="472.27" y1="251.30" x2="472.27" y2="243.80" stroke="#111" stroke-width="0.75"/>
<line x1="471.27" y1="243.80" x2="473.27" y2="243.80" stroke="#111" stroke-width="0.8"/>
<line x1="477.82" y1="244.28" x2="477.82" y2="236.78" stroke="#111" stroke-width="0.75"/>
<line x1="476.82" y1="236.78" x2="478.82" y2="236.78" stroke="#111" stroke-width="0.8"/>
<rect x="487.18" y="249.22" width="5.10" height="19.78" fill="#000"/>
<rect x="492.73" y="232.13" width="5.10" height="36.87" fill="#fff" stroke="#000" stroke-width="0.9"/>
<line x1="489.73" y1="249.22" x2="489.73" y2="239.49" stroke="#111" stroke-width="0.75"/>
<line x1="488.73" y1="239.49" x2="490.73" y2="239.49" stroke="#111" stroke-width="0.8"/>
<line x1="495.28" y1="231.68" x2="495.28" y2="223.06" stroke="#111" stroke-width="0.75"/>
<line x1="494.28" y1="223.06" x2="496.28" y2="223.06" stroke="#111" stroke-width="0.8"/>
<rect x="504.64" y="246.19" width="5.10" height="22.81" fill="#000"/>
<rect x="510.19" y="238.67" width="5.10" height="30.33" fill="#fff" stroke="#000" stroke-width="0.9"/>
<line x1="507.19" y1="246.19" x2="507.19" y2="235.03" stroke="#111" stroke-width="0.75"/>
<line x1="506.19" y1="235.03" x2="508.19" y2="235.03" stroke="#111" stroke-width="0.8"/>
<line x1="512.74" y1="238.22" x2="512.74" y2="232.47" stroke="#111" stroke-width="0.75"/>
<line x1="511.74" y1="232.47" x2="513.74" y2="232.47" stroke="#111" stroke-width="0.8"/>
<text x="342.80" y="278.90" font-size="6.5" text-anchor="start" font-weight="normal" fill="#000"  stroke="#000" stroke-width="0.28">none</text>
<text x="342.80" y="288.30" font-size="6.5" text-anchor="start" font-weight="normal" fill="#000"  stroke="#000" stroke-width="0.28">ng/mL:</text>
<text x="364.96" y="278.90" font-size="8.15" text-anchor="start" font-weight="normal" fill="#000"  stroke="#000" stroke-width="0.3">CXCL12</text>
<line x1="364.66" y1="281.00" x2="411.08" y2="281.00" stroke="#888" stroke-width="1.2"/>
<text x="370.26" y="288.00" font-size="6.4" text-anchor="middle" font-weight="normal" fill="#000"  stroke="#000" stroke-width="0.28">100</text>
<text x="387.72" y="288.00" font-size="6.4" text-anchor="middle" font-weight="normal" fill="#000"  stroke="#000" stroke-width="0.28">300</text>
<text x="405.18" y="288.00" font-size="6.4" text-anchor="middle" font-weight="normal" fill="#000"  stroke="#000" stroke-width="0.28">500</text>
<text x="417.34" y="278.90" font-size="8.15" text-anchor="start" font-weight="normal" fill="#000"  stroke="#000" stroke-width="0.3">CCL21</text>
<line x1="417.04" y1="281.00" x2="463.46" y2="281.00" stroke="#888" stroke-width="1.2"/>
<text x="422.64" y="288.00" font-size="6.4" text-anchor="middle" font-weight="normal" fill="#000"  stroke="#000" stroke-width="0.28">100</text>
<text x="440.10" y="288.00" font-size="6.4" text-anchor="middle" font-weight="normal" fill="#000"  stroke="#000" stroke-width="0.28">300</text>
<text x="457.56" y="288.00" font-size="6.4" text-anchor="middle" font-weight="normal" fill="#000"  stroke="#000" stroke-width="0.28">500</text>
<text x="469.72" y="278.90" font-size="8.15" text-anchor="start" font-weight="normal" fill="#000"  stroke="#000" stroke-width="0.3">CCL19</text>
<line x1="469.42" y1="281.00" x2="515.84" y2="281.00" stroke="#888" stroke-width="1.2"/>
<text x="475.02" y="288.00" font-size="6.4" text-anchor="middle" font-weight="normal" fill="#000"  stroke="#000" stroke-width="0.28">100</text>
<text x="492.48" y="288.00" font-size="6.4" text-anchor="middle" font-weight="normal" fill="#000"  stroke="#000" stroke-width="0.28">300</text>
<text x="509.94" y="288.00" font-size="6.4" text-anchor="middle" font-weight="normal" fill="#000"  stroke="#000" stroke-width="0.28">500</text>
<text x="0.80" y="311.00" font-size="10.5" fill="#000" stroke="#000" stroke-width="0.5">G</text>
<rect x="33.70" y="333.80" width="6.50" height="6.30" fill="#000"/>
<rect x="34.20" y="343.20" width="6.30" height="6.40" fill="#fff" stroke="#000" stroke-width="1.0"/>
<text x="42.50" y="338.40" font-size="6.3" text-anchor="start" font-weight="bold" fill="#000" >WT</text>
<g transform="translate(42.50,348.20) scale(0.1)"><text x="0" y="0" font-size="63.0" fill="#000" font-weight="bold">Rho GDI <tspan font-size="64.9" dy="6.0" font-weight="normal" stroke="#000" stroke-width="3.0">α/β</tspan><tspan font-size="63.0" dy="-11.0" dx="2.0"> -/-</tspan></text></g>
<line x1="20.00" y1="333.80" x2="20.00" y2="425.10" stroke="#000" stroke-width="1.2"/>
<line x1="19.40" y1="424.50" x2="196.50" y2="424.50" stroke="#000" stroke-width="1.2"/>
<line x1="17.40" y1="424.50" x2="20.00" y2="424.50" stroke="#000" stroke-width="0.9"/>
<text x="13.60" y="426.55" font-size="5.7" text-anchor="end" font-weight="bold" fill="#000" >0</text>
<line x1="17.40" y1="408.55" x2="20.00" y2="408.55" stroke="#000" stroke-width="0.9"/>
<text x="16.60" y="410.60" font-size="5.7" text-anchor="end" font-weight="bold" fill="#000" >10</text>
<line x1="17.40" y1="392.60" x2="20.00" y2="392.60" stroke="#000" stroke-width="0.9"/>
<text x="16.60" y="394.65" font-size="5.7" text-anchor="end" font-weight="bold" fill="#000" >20</text>
<line x1="17.40" y1="376.65" x2="20.00" y2="376.65" stroke="#000" stroke-width="0.9"/>
<text x="16.60" y="378.70" font-size="5.7" text-anchor="end" font-weight="bold" fill="#000" >30</text>
<line x1="17.40" y1="360.70" x2="20.00" y2="360.70" stroke="#000" stroke-width="0.9"/>
<text x="16.60" y="362.75" font-size="5.7" text-anchor="end" font-weight="bold" fill="#000" >40</text>
<line x1="17.40" y1="344.75" x2="20.00" y2="344.75" stroke="#000" stroke-width="0.9"/>
<text x="16.60" y="346.80" font-size="5.7" text-anchor="end" font-weight="bold" fill="#000" >50</text>
<text transform="translate(7.50,376.20) rotate(-90)" font-size="8.8" text-anchor="middle" font-weight="normal" fill="#000" stroke="#000" stroke-width="0.3">Migration (%)</text>
<rect x="23.80" y="422.49" width="5.10" height="2.01" fill="#000"/>
<rect x="29.35" y="422.94" width="5.10" height="1.56" fill="#fff" stroke="#000" stroke-width="0.9"/>
<line x1="26.35" y1="422.49" x2="26.35" y2="421.95" stroke="#111" stroke-width="0.75"/>
<line x1="25.35" y1="421.95" x2="27.35" y2="421.95" stroke="#111" stroke-width="0.8"/>
<line x1="31.90" y1="422.49" x2="31.90" y2="421.95" stroke="#111" stroke-width="0.75"/>
<line x1="30.90" y1="421.95" x2="32.90" y2="421.95" stroke="#111" stroke-width="0.8"/>
<rect x="41.26" y="417.96" width="5.10" height="6.54" fill="#000"/>
<rect x="46.81" y="416.66" width="5.10" height="7.84" fill="#fff" stroke="#000" stroke-width="0.9"/>
<line x1="43.81" y1="417.96" x2="43.81" y2="415.41" stroke="#111" stroke-width="0.75"/>
<line x1="42.81" y1="415.41" x2="44.81" y2="415.41" stroke="#111" stroke-width="0.8"/>
<line x1="49.36" y1="416.21" x2="49.36" y2="413.65" stroke="#111" stroke-width="0.75"/>
<line x1="48.36" y1="413.65" x2="50.36" y2="413.65" stroke="#111" stroke-width="0.8"/>
<rect x="58.72" y="419.24" width="5.10" height="5.26" fill="#000"/>
<rect x="64.27" y="417.93" width="5.10" height="6.57" fill="#fff" stroke="#000" stroke-width="0.9"/>
<line x1="61.27" y1="419.24" x2="61.27" y2="417.48" stroke="#111" stroke-width="0.75"/>
<line x1="60.27" y1="417.48" x2="62.27" y2="417.48" stroke="#111" stroke-width="0.8"/>
<line x1="66.82" y1="417.48" x2="66.82" y2="414.45" stroke="#111" stroke-width="0.75"/>
<line x1="65.82" y1="414.45" x2="67.82" y2="414.45" stroke="#111" stroke-width="0.8"/>
<rect x="76.18" y="422.43" width="5.10" height="2.07" fill="#000"/>
<rect x="81.73" y="419.69" width="5.10" height="4.81" fill="#fff" stroke="#000" stroke-width="0.9"/>
<line x1="78.73" y1="422.43" x2="78.73" y2="421.63" stroke="#111" stroke-width="0.75"/>
<line x1="77.73" y1="421.63" x2="79.73" y2="421.63" stroke="#111" stroke-width="0.8"/>
<line x1="84.28" y1="419.24" x2="84.28" y2="417.00" stroke="#111" stroke-width="0.75"/>
<line x1="83.28" y1="417.00" x2="85.28" y2="417.00" stroke="#111" stroke-width="0.8"/>
<rect x="93.64" y="417.00" width="5.10" height="7.50" fill="#000"/>
<rect x="99.19" y="421.76" width="5.10" height="2.74" fill="#fff" stroke="#000" stroke-width="0.9"/>
<line x1="96.19" y1="417.00" x2="96.19" y2="411.90" stroke="#111" stroke-width="0.75"/>
<line x1="95.19" y1="411.90" x2="97.19" y2="411.90" stroke="#111" stroke-width="0.8"/>
<line x1="101.74" y1="421.31" x2="101.74" y2="419.24" stroke="#111" stroke-width="0.75"/>
<line x1="100.74" y1="419.24" x2="102.74" y2="419.24" stroke="#111" stroke-width="0.8"/>
<rect x="111.10" y="394.19" width="5.10" height="30.30" fill="#000"/>
<rect x="116.65" y="402.14" width="5.10" height="22.36" fill="#fff" stroke="#000" stroke-width="0.9"/>
<line x1="113.65" y1="394.19" x2="113.65" y2="379.04" stroke="#111" stroke-width="0.75"/>
<line x1="112.65" y1="379.04" x2="114.65" y2="379.04" stroke="#111" stroke-width="0.8"/>
<line x1="119.20" y1="401.69" x2="119.20" y2="394.83" stroke="#111" stroke-width="0.75"/>
<line x1="118.20" y1="394.83" x2="120.20" y2="394.83" stroke="#111" stroke-width="0.8"/>
<rect x="128.56" y="390.21" width="5.10" height="34.29" fill="#000"/>
<rect x="134.11" y="383.16" width="5.10" height="41.34" fill="#fff" stroke="#000" stroke-width="0.9"/>
<line x1="131.11" y1="390.21" x2="131.11" y2="386.38" stroke="#111" stroke-width="0.75"/>
<line x1="130.11" y1="386.38" x2="132.11" y2="386.38" stroke="#111" stroke-width="0.8"/>
<line x1="136.66" y1="382.71" x2="136.66" y2="376.81" stroke="#111" stroke-width="0.75"/>
<line x1="135.66" y1="376.81" x2="137.66" y2="376.81" stroke="#111" stroke-width="0.8"/>
<rect x="146.02" y="404.72" width="5.10" height="19.78" fill="#000"/>
<rect x="151.57" y="396.88" width="5.10" height="27.62" fill="#fff" stroke="#000" stroke-width="0.9"/>
<line x1="148.57" y1="404.72" x2="148.57" y2="400.26" stroke="#111" stroke-width="0.75"/>
<line x1="147.57" y1="400.26" x2="149.57" y2="400.26" stroke="#111" stroke-width="0.8"/>
<line x1="154.12" y1="396.43" x2="154.12" y2="386.86" stroke="#111" stroke-width="0.75"/>
<line x1="153.12" y1="386.86" x2="155.12" y2="386.86" stroke="#111" stroke-width="0.8"/>
<rect x="163.48" y="400.26" width="5.10" height="24.24" fill="#000"/>
<rect x="169.03" y="385.55" width="5.10" height="38.95" fill="#fff" stroke="#000" stroke-width="0.9"/>
<line x1="166.03" y1="400.26" x2="166.03" y2="386.38" stroke="#111" stroke-width="0.75"/>
<line x1="165.03" y1="386.38" x2="167.03" y2="386.38" stroke="#111" stroke-width="0.8"/>
<line x1="171.58" y1="385.10" x2="171.58" y2="373.78" stroke="#111" stroke-width="0.75"/>
<line x1="170.58" y1="373.78" x2="172.58" y2="373.78" stroke="#111" stroke-width="0.8"/>
<rect x="180.94" y="396.43" width="5.10" height="28.07" fill="#000"/>
<rect x="186.49" y="386.83" width="5.10" height="37.67" fill="#fff" stroke="#000" stroke-width="0.9"/>
<line x1="183.49" y1="396.43" x2="183.49" y2="387.66" stroke="#111" stroke-width="0.75"/>
<line x1="182.49" y1="387.66" x2="184.49" y2="387.66" stroke="#111" stroke-width="0.8"/>
<line x1="189.04" y1="386.38" x2="189.04" y2="376.81" stroke="#111" stroke-width="0.75"/>
<line x1="188.04" y1="376.81" x2="190.04" y2="376.81" stroke="#111" stroke-width="0.8"/>
<text x="19.60" y="433.80" font-size="6.5" text-anchor="start" font-weight="normal" fill="#000"  stroke="#000" stroke-width="0.28">none</text>
<text x="19.60" y="443.30" font-size="6.5" text-anchor="start" font-weight="normal" fill="#000"  stroke="#000" stroke-width="0.28">ng/mL:</text>
<text x="41.26" y="433.80" font-size="8.15" text-anchor="start" font-weight="normal" fill="#000"  stroke="#000" stroke-width="0.3">CXCL12</text>
<line x1="40.96" y1="435.90" x2="87.38" y2="435.90" stroke="#888" stroke-width="1.2"/>
<text x="46.56" y="443.00" font-size="6.4" text-anchor="middle" font-weight="normal" fill="#000"  stroke="#000" stroke-width="0.28">100</text>
<text x="64.02" y="443.00" font-size="6.4" text-anchor="middle" font-weight="normal" fill="#000"  stroke="#000" stroke-width="0.28">300</text>
<text x="81.48" y="443.00" font-size="6.4" text-anchor="middle" font-weight="normal" fill="#000"  stroke="#000" stroke-width="0.28">500</text>
<text x="93.64" y="433.80" font-size="8.15" text-anchor="start" font-weight="normal" fill="#000"  stroke="#000" stroke-width="0.3">CCL21</text>
<line x1="93.34" y1="435.90" x2="139.76" y2="435.90" stroke="#888" stroke-width="1.2"/>
<text x="98.94" y="443.00" font-size="6.4" text-anchor="middle" font-weight="normal" fill="#000"  stroke="#000" stroke-width="0.28">100</text>
<text x="116.40" y="443.00" font-size="6.4" text-anchor="middle" font-weight="normal" fill="#000"  stroke="#000" stroke-width="0.28">300</text>
<text x="133.86" y="443.00" font-size="6.4" text-anchor="middle" font-weight="normal" fill="#000"  stroke="#000" stroke-width="0.28">500</text>
<text x="146.02" y="433.80" font-size="8.15" text-anchor="start" font-weight="normal" fill="#000"  stroke="#000" stroke-width="0.3">CCL19</text>
<line x1="145.72" y1="435.90" x2="192.14" y2="435.90" stroke="#888" stroke-width="1.2"/>
<text x="151.32" y="443.00" font-size="6.4" text-anchor="middle" font-weight="normal" fill="#000"  stroke="#000" stroke-width="0.28">100</text>
<text x="168.78" y="443.00" font-size="6.4" text-anchor="middle" font-weight="normal" fill="#000"  stroke="#000" stroke-width="0.28">300</text>
<text x="186.24" y="443.00" font-size="6.4" text-anchor="middle" font-weight="normal" fill="#000"  stroke="#000" stroke-width="0.28">500</text>
<text x="224.00" y="311.10" font-size="10.5" fill="#000" stroke="#000" stroke-width="0.5">H</text>
<polyline points="249.2,315.1 353.8,315.1 353.8,419.2" fill="none" stroke="#8c8c8c" stroke-width="0.8"/>
<polyline points="249.2,315.1 249.2,419.2 353.8,419.2" fill="none" stroke="#4a4a4a" stroke-width="0.9"/>
<text x="245.60" y="422.50" font-size="6.7" text-anchor="end" fill="#000" font-weight="bold">10<tspan font-size="4.69" dy="-3.3">0</tspan></text>
<text x="245.60" y="401.68" font-size="6.7" text-anchor="end" fill="#000" font-weight="bold">10<tspan font-size="4.69" dy="-3.3">1</tspan></text>
<text x="245.60" y="380.86" font-size="6.7" text-anchor="end" fill="#000" font-weight="bold">10<tspan font-size="4.69" dy="-3.3">2</tspan></text>
<text x="245.60" y="360.04" font-size="6.7" text-anchor="end" fill="#000" font-weight="bold">10<tspan font-size="4.69" dy="-3.3">3</tspan></text>
<text x="245.60" y="339.22" font-size="6.7" text-anchor="end" fill="#000" font-weight="bold">10<tspan font-size="4.69" dy="-3.3">4</tspan></text>
<text x="245.60" y="318.40" font-size="6.7" text-anchor="end" fill="#000" font-weight="bold">10<tspan font-size="4.69" dy="-3.3">5</tspan></text>
<text x="250.20" y="430.80" font-size="6.7" text-anchor="middle" fill="#000" font-weight="bold">10<tspan font-size="4.69" dy="-3.3">0</tspan></text>
<text x="276.35" y="430.80" font-size="6.7" text-anchor="middle" fill="#000" font-weight="bold">10<tspan font-size="4.69" dy="-3.3">1</tspan></text>
<text x="302.50" y="430.80" font-size="6.7" text-anchor="middle" fill="#000" font-weight="bold">10<tspan font-size="4.69" dy="-3.3">2</tspan></text>
<text x="328.65" y="430.80" font-size="6.7" text-anchor="middle" fill="#000" font-weight="bold">10<tspan font-size="4.69" dy="-3.3">3</tspan></text>
<text x="354.80" y="430.80" font-size="6.7" text-anchor="middle" fill="#000" font-weight="bold">10<tspan font-size="4.69" dy="-3.3">4</tspan></text>
<line x1="247.20" y1="419.20" x2="249.50" y2="419.20" stroke="#333" stroke-width="0.7"/>
<line x1="248.00" y1="412.93" x2="249.50" y2="412.93" stroke="#333" stroke-width="0.7"/>
<line x1="248.00" y1="409.27" x2="249.50" y2="409.27" stroke="#333" stroke-width="0.7"/>
<line x1="248.00" y1="406.67" x2="249.50" y2="406.67" stroke="#333" stroke-width="0.7"/>
<line x1="248.00" y1="404.65" x2="249.50" y2="404.65" stroke="#333" stroke-width="0.7"/>
<line x1="248.00" y1="403.00" x2="249.50" y2="403.00" stroke="#333" stroke-width="0.7"/>
<line x1="248.00" y1="401.61" x2="249.50" y2="401.61" stroke="#333" stroke-width="0.7"/>
<line x1="248.00" y1="400.40" x2="249.50" y2="400.40" stroke="#333" stroke-width="0.7"/>
<line x1="248.00" y1="399.33" x2="249.50" y2="399.33" stroke="#333" stroke-width="0.7"/>
<line x1="247.20" y1="398.38" x2="249.50" y2="398.38" stroke="#333" stroke-width="0.7"/>
<line x1="248.00" y1="392.11" x2="249.50" y2="392.11" stroke="#333" stroke-width="0.7"/>
<line x1="248.00" y1="388.45" x2="249.50" y2="388.45" stroke="#333" stroke-width="0.7"/>
<line x1="248.00" y1="385.85" x2="249.50" y2="385.85" stroke="#333" stroke-width="0.7"/>
<line x1="248.00" y1="383.83" x2="249.50" y2="383.83" stroke="#333" stroke-width="0.7"/>
<line x1="248.00" y1="382.18" x2="249.50" y2="382.18" stroke="#333" stroke-width="0.7"/>
<line x1="248.00" y1="380.79" x2="249.50" y2="380.79" stroke="#333" stroke-width="0.7"/>
<line x1="248.00" y1="379.58" x2="249.50" y2="379.58" stroke="#333" stroke-width="0.7"/>
<line x1="248.00" y1="378.51" x2="249.50" y2="378.51" stroke="#333" stroke-width="0.7"/>
<line x1="247.20" y1="377.56" x2="249.50" y2="377.56" stroke="#333" stroke-width="0.7"/>
<line x1="248.00" y1="371.29" x2="249.50" y2="371.29" stroke="#333" stroke-width="0.7"/>
<line x1="248.00" y1="367.63" x2="249.50" y2="367.63" stroke="#333" stroke-width="0.7"/>
<line x1="248.00" y1="365.03" x2="249.50" y2="365.03" stroke="#333" stroke-width="0.7"/>
<line x1="248.00" y1="363.01" x2="249.50" y2="363.01" stroke="#333" stroke-width="0.7"/>
<line x1="248.00" y1="361.36" x2="249.50" y2="361.36" stroke="#333" stroke-width="0.7"/>
<line x1="248.00" y1="359.97" x2="249.50" y2="359.97" stroke="#333" stroke-width="0.7"/>
<line x1="248.00" y1="358.76" x2="249.50" y2="358.76" stroke="#333" stroke-width="0.7"/>
<line x1="248.00" y1="357.69" x2="249.50" y2="357.69" stroke="#333" stroke-width="0.7"/>
<line x1="247.20" y1="356.74" x2="249.50" y2="356.74" stroke="#333" stroke-width="0.7"/>
<line x1="248.00" y1="350.47" x2="249.50" y2="350.47" stroke="#333" stroke-width="0.7"/>
<line x1="248.00" y1="346.81" x2="249.50" y2="346.81" stroke="#333" stroke-width="0.7"/>
<line x1="248.00" y1="344.21" x2="249.50" y2="344.21" stroke="#333" stroke-width="0.7"/>
<line x1="248.00" y1="342.19" x2="249.50" y2="342.19" stroke="#333" stroke-width="0.7"/>
<line x1="248.00" y1="340.54" x2="249.50" y2="340.54" stroke="#333" stroke-width="0.7"/>
<line x1="248.00" y1="339.15" x2="249.50" y2="339.15" stroke="#333" stroke-width="0.7"/>
<line x1="248.00" y1="337.94" x2="249.50" y2="337.94" stroke="#333" stroke-width="0.7"/>
<line x1="248.00" y1="336.87" x2="249.50" y2="336.87" stroke="#333" stroke-width="0.7"/>
<line x1="247.20" y1="335.92" x2="249.50" y2="335.92" stroke="#333" stroke-width="0.7"/>
<line x1="248.00" y1="329.65" x2="249.50" y2="329.65" stroke="#333" stroke-width="0.7"/>
<line x1="248.00" y1="325.99" x2="249.50" y2="325.99" stroke="#333" stroke-width="0.7"/>
<line x1="248.00" y1="323.39" x2="249.50" y2="323.39" stroke="#333" stroke-width="0.7"/>
<line x1="248.00" y1="321.37" x2="249.50" y2="321.37" stroke="#333" stroke-width="0.7"/>
<line x1="248.00" y1="319.72" x2="249.50" y2="319.72" stroke="#333" stroke-width="0.7"/>
<line x1="248.00" y1="318.33" x2="249.50" y2="318.33" stroke="#333" stroke-width="0.7"/>
<line x1="248.00" y1="317.12" x2="249.50" y2="317.12" stroke="#333" stroke-width="0.7"/>
<line x1="248.00" y1="316.05" x2="249.50" y2="316.05" stroke="#333" stroke-width="0.7"/>
<line x1="249.20" y1="418.90" x2="249.20" y2="421.20" stroke="#333" stroke-width="0.7"/>
<line x1="257.07" y1="418.90" x2="257.07" y2="420.40" stroke="#333" stroke-width="0.7"/>
<line x1="261.68" y1="418.90" x2="261.68" y2="420.40" stroke="#333" stroke-width="0.7"/>
<line x1="264.94" y1="418.90" x2="264.94" y2="420.40" stroke="#333" stroke-width="0.7"/>
<line x1="267.48" y1="418.90" x2="267.48" y2="420.40" stroke="#333" stroke-width="0.7"/>
<line x1="269.55" y1="418.90" x2="269.55" y2="420.40" stroke="#333" stroke-width="0.7"/>
<line x1="271.30" y1="418.90" x2="271.30" y2="420.40" stroke="#333" stroke-width="0.7"/>
<line x1="272.82" y1="418.90" x2="272.82" y2="420.40" stroke="#333" stroke-width="0.7"/>
<line x1="274.15" y1="418.90" x2="274.15" y2="420.40" stroke="#333" stroke-width="0.7"/>
<line x1="275.35" y1="418.90" x2="275.35" y2="421.20" stroke="#333" stroke-width="0.7"/>
<line x1="283.22" y1="418.90" x2="283.22" y2="420.40" stroke="#333" stroke-width="0.7"/>
<line x1="287.83" y1="418.90" x2="287.83" y2="420.40" stroke="#333" stroke-width="0.7"/>
<line x1="291.09" y1="418.90" x2="291.09" y2="420.40" stroke="#333" stroke-width="0.7"/>
<line x1="293.63" y1="418.90" x2="293.63" y2="420.40" stroke="#333" stroke-width="0.7"/>
<line x1="295.70" y1="418.90" x2="295.70" y2="420.40" stroke="#333" stroke-width="0.7"/>
<line x1="297.45" y1="418.90" x2="297.45" y2="420.40" stroke="#333" stroke-width="0.7"/>
<line x1="298.97" y1="418.90" x2="298.97" y2="420.40" stroke="#333" stroke-width="0.7"/>
<line x1="300.30" y1="418.90" x2="300.30" y2="420.40" stroke="#333" stroke-width="0.7"/>
<line x1="301.50" y1="418.90" x2="301.50" y2="421.20" stroke="#333" stroke-width="0.7"/>
<line x1="309.37" y1="418.90" x2="309.37" y2="420.40" stroke="#333" stroke-width="0.7"/>
<line x1="313.98" y1="418.90" x2="313.98" y2="420.40" stroke="#333" stroke-width="0.7"/>
<line x1="317.24" y1="418.90" x2="317.24" y2="420.40" stroke="#333" stroke-width="0.7"/>
<line x1="319.78" y1="418.90" x2="319.78" y2="420.40" stroke="#333" stroke-width="0.7"/>
<line x1="321.85" y1="418.90" x2="321.85" y2="420.40" stroke="#333" stroke-width="0.7"/>
<line x1="323.60" y1="418.90" x2="323.60" y2="420.40" stroke="#333" stroke-width="0.7"/>
<line x1="325.12" y1="418.90" x2="325.12" y2="420.40" stroke="#333" stroke-width="0.7"/>
<line x1="326.45" y1="418.90" x2="326.45" y2="420.40" stroke="#333" stroke-width="0.7"/>
<line x1="327.65" y1="418.90" x2="327.65" y2="421.20" stroke="#333" stroke-width="0.7"/>
<line x1="335.52" y1="418.90" x2="335.52" y2="420.40" stroke="#333" stroke-width="0.7"/>
<line x1="340.13" y1="418.90" x2="340.13" y2="420.40" stroke="#333" stroke-width="0.7"/>
<line x1="343.39" y1="418.90" x2="343.39" y2="420.40" stroke="#333" stroke-width="0.7"/>
<line x1="345.93" y1="418.90" x2="345.93" y2="420.40" stroke="#333" stroke-width="0.7"/>
<line x1="348.00" y1="418.90" x2="348.00" y2="420.40" stroke="#333" stroke-width="0.7"/>
<line x1="349.75" y1="418.90" x2="349.75" y2="420.40" stroke="#333" stroke-width="0.7"/>
<line x1="351.27" y1="418.90" x2="351.27" y2="420.40" stroke="#333" stroke-width="0.7"/>
<line x1="352.60" y1="418.90" x2="352.60" y2="420.40" stroke="#333" stroke-width="0.7"/>
<line x1="353.80" y1="419.20" x2="353.80" y2="421.20" stroke="#555" stroke-width="0.6"/>
<line x1="247.20" y1="315.10" x2="249.20" y2="315.10" stroke="#555" stroke-width="0.6"/>
<text transform="translate(230.50,368.20) rotate(-90)" font-size="8.2" text-anchor="middle" font-weight="normal" fill="#000" stroke="#000" stroke-width="0.3">Cells</text>
<text x="286.30" y="442.30" font-size="8.6" text-anchor="start" font-weight="normal" fill="#000"  stroke="#000" stroke-width="0.3">CCR7</text>
<polyline points="249.7,398.5 251.7,395.0 253.0,393.0 255.0,389.0 256.5,386.0 257.6,382.0 258.5,378.0 259.3,375.5 260.0,377.0 261.0,371.5 262.0,366.5 263.0,362.0 264.6,357.0 266.3,352.4 267.8,346.5 269.2,341.2 270.3,336.5 271.4,332.2 272.3,328.8 273.1,326.0 274.0,324.4 275.1,320.4 275.9,323.2 277.0,330.0 278.1,341.2 279.3,354.7 280.1,362.0 281.0,372.0 282.0,385.0 283.4,393.0 284.7,402.5 286.0,409.2 288.0,412.6 290.8,415.3 294.8,416.6 301.5,417.3 315.0,417.5 330.0,417.2 340.0,417.0 345.0,416.0 348.0,414.2 350.0,415.3 352.0,413.5 353.6,414.0" fill="none" stroke="#a4a4a4" stroke-width="0.85" stroke-linejoin="round"/>
<polyline points="250.1,355.3 251.2,357.0 252.3,350.8 253.4,354.7 255.1,348.0 256.8,339.0 257.6,334.5 258.7,346.3 259.8,335.6 261.0,326.6 261.9,325.0 262.8,326.0 263.5,327.2 264.7,321.0 265.4,325.5 266.3,332.2 267.5,327.7 268.4,326.0 269.2,331.1 269.9,337.8 270.6,344.6 271.6,354.0 272.6,363.0 273.6,372.0 274.6,380.0 275.6,385.5 276.6,389.0 278.0,398.5 279.3,405.2 281.1,408.6 282.7,407.9 284.0,406.5 285.1,409.9 286.7,414.0 289.4,415.7 293.5,417.0 301.5,417.6 315.0,417.9 330.0,417.7 340.0,417.6 345.0,417.0 348.0,415.8 350.0,416.5 352.0,415.0 353.6,415.6" fill="none" stroke="#424242" stroke-width="0.75" stroke-linejoin="round"/>
<circle cx="291.50" cy="325.1" r="0.8" fill="#000"/>
<circle cx="294.40" cy="325.1" r="0.8" fill="#000"/>
<circle cx="297.30" cy="325.1" r="0.8" fill="#000"/>
<circle cx="300.20" cy="325.1" r="0.8" fill="#000"/>
<circle cx="303.10" cy="325.1" r="0.8" fill="#000"/>
<line x1="290.80" y1="333.50" x2="304.40" y2="333.50" stroke="#000" stroke-width="1.0"/>
<text x="307.20" y="326.60" font-size="6.0" text-anchor="start" font-weight="bold" fill="#000" >WT</text>
<g transform="translate(307.20,334.90) scale(0.1)"><text x="0" y="0" font-size="60.0" fill="#000" font-weight="bold">Rho GDI <tspan font-size="61.8" dy="6.0" font-weight="normal" stroke="#000" stroke-width="3.0">α/β</tspan><tspan font-size="60.0" dy="-11.0" dx="2.0"> -/-</tspan></text></g>
<text x="380.20" y="311.10" font-size="10.5" fill="#000" stroke="#000" stroke-width="0.5">I</text>
<polyline points="405.0,315.1 510.5,315.1 510.5,419.2" fill="none" stroke="#8c8c8c" stroke-width="0.8"/>
<polyline points="405.0,315.1 405.0,419.2 510.5,419.2" fill="none" stroke="#4a4a4a" stroke-width="0.9"/>
<text x="401.40" y="422.50" font-size="6.7" text-anchor="end" fill="#000" font-weight="bold">10<tspan font-size="4.69" dy="-3.3">0</tspan></text>
<text x="401.40" y="401.68" font-size="6.7" text-anchor="end" fill="#000" font-weight="bold">10<tspan font-size="4.69" dy="-3.3">1</tspan></text>
<text x="401.40" y="380.86" font-size="6.7" text-anchor="end" fill="#000" font-weight="bold">10<tspan font-size="4.69" dy="-3.3">2</tspan></text>
<text x="401.40" y="360.04" font-size="6.7" text-anchor="end" fill="#000" font-weight="bold">10<tspan font-size="4.69" dy="-3.3">3</tspan></text>
<text x="401.40" y="339.22" font-size="6.7" text-anchor="end" fill="#000" font-weight="bold">10<tspan font-size="4.69" dy="-3.3">4</tspan></text>
<text x="401.40" y="318.40" font-size="6.7" text-anchor="end" fill="#000" font-weight="bold">10<tspan font-size="4.69" dy="-3.3">5</tspan></text>
<text x="406.00" y="430.80" font-size="6.7" text-anchor="middle" fill="#000" font-weight="bold">10<tspan font-size="4.69" dy="-3.3">0</tspan></text>
<text x="432.38" y="430.80" font-size="6.7" text-anchor="middle" fill="#000" font-weight="bold">10<tspan font-size="4.69" dy="-3.3">1</tspan></text>
<text x="458.75" y="430.80" font-size="6.7" text-anchor="middle" fill="#000" font-weight="bold">10<tspan font-size="4.69" dy="-3.3">2</tspan></text>
<text x="485.12" y="430.80" font-size="6.7" text-anchor="middle" fill="#000" font-weight="bold">10<tspan font-size="4.69" dy="-3.3">3</tspan></text>
<text x="511.50" y="430.80" font-size="6.7" text-anchor="middle" fill="#000" font-weight="bold">10<tspan font-size="4.69" dy="-3.3">4</tspan></text>
<line x1="403.00" y1="419.20" x2="405.30" y2="419.20" stroke="#333" stroke-width="0.7"/>
<line x1="403.80" y1="412.93" x2="405.30" y2="412.93" stroke="#333" stroke-width="0.7"/>
<line x1="403.80" y1="409.27" x2="405.30" y2="409.27" stroke="#333" stroke-width="0.7"/>
<line x1="403.80" y1="406.67" x2="405.30" y2="406.67" stroke="#333" stroke-width="0.7"/>
<line x1="403.80" y1="404.65" x2="405.30" y2="404.65" stroke="#333" stroke-width="0.7"/>
<line x1="403.80" y1="403.00" x2="405.30" y2="403.00" stroke="#333" stroke-width="0.7"/>
<line x1="403.80" y1="401.61" x2="405.30" y2="401.61" stroke="#333" stroke-width="0.7"/>
<line x1="403.80" y1="400.40" x2="405.30" y2="400.40" stroke="#333" stroke-width="0.7"/>
<line x1="403.80" y1="399.33" x2="405.30" y2="399.33" stroke="#333" stroke-width="0.7"/>
<line x1="403.00" y1="398.38" x2="405.30" y2="398.38" stroke="#333" stroke-width="0.7"/>
<line x1="403.80" y1="392.11" x2="405.30" y2="392.11" stroke="#333" stroke-width="0.7"/>
<line x1="403.80" y1="388.45" x2="405.30" y2="388.45" stroke="#333" stroke-width="0.7"/>
<line x1="403.80" y1="385.85" x2="405.30" y2="385.85" stroke="#333" stroke-width="0.7"/>
<line x1="403.80" y1="383.83" x2="405.30" y2="383.83" stroke="#333" stroke-width="0.7"/>
<line x1="403.80" y1="382.18" x2="405.30" y2="382.18" stroke="#333" stroke-width="0.7"/>
<line x1="403.80" y1="380.79" x2="405.30" y2="380.79" stroke="#333" stroke-width="0.7"/>
<line x1="403.80" y1="379.58" x2="405.30" y2="379.58" stroke="#333" stroke-width="0.7"/>
<line x1="403.80" y1="378.51" x2="405.30" y2="378.51" stroke="#333" stroke-width="0.7"/>
<line x1="403.00" y1="377.56" x2="405.30" y2="377.56" stroke="#333" stroke-width="0.7"/>
<line x1="403.80" y1="371.29" x2="405.30" y2="371.29" stroke="#333" stroke-width="0.7"/>
<line x1="403.80" y1="367.63" x2="405.30" y2="367.63" stroke="#333" stroke-width="0.7"/>
<line x1="403.80" y1="365.03" x2="405.30" y2="365.03" stroke="#333" stroke-width="0.7"/>
<line x1="403.80" y1="363.01" x2="405.30" y2="363.01" stroke="#333" stroke-width="0.7"/>
<line x1="403.80" y1="361.36" x2="405.30" y2="361.36" stroke="#333" stroke-width="0.7"/>
<line x1="403.80" y1="359.97" x2="405.30" y2="359.97" stroke="#333" stroke-width="0.7"/>
<line x1="403.80" y1="358.76" x2="405.30" y2="358.76" stroke="#333" stroke-width="0.7"/>
<line x1="403.80" y1="357.69" x2="405.30" y2="357.69" stroke="#333" stroke-width="0.7"/>
<line x1="403.00" y1="356.74" x2="405.30" y2="356.74" stroke="#333" stroke-width="0.7"/>
<line x1="403.80" y1="350.47" x2="405.30" y2="350.47" stroke="#333" stroke-width="0.7"/>
<line x1="403.80" y1="346.81" x2="405.30" y2="346.81" stroke="#333" stroke-width="0.7"/>
<line x1="403.80" y1="344.21" x2="405.30" y2="344.21" stroke="#333" stroke-width="0.7"/>
<line x1="403.80" y1="342.19" x2="405.30" y2="342.19" stroke="#333" stroke-width="0.7"/>
<line x1="403.80" y1="340.54" x2="405.30" y2="340.54" stroke="#333" stroke-width="0.7"/>
<line x1="403.80" y1="339.15" x2="405.30" y2="339.15" stroke="#333" stroke-width="0.7"/>
<line x1="403.80" y1="337.94" x2="405.30" y2="337.94" stroke="#333" stroke-width="0.7"/>
<line x1="403.80" y1="336.87" x2="405.30" y2="336.87" stroke="#333" stroke-width="0.7"/>
<line x1="403.00" y1="335.92" x2="405.30" y2="335.92" stroke="#333" stroke-width="0.7"/>
<line x1="403.80" y1="329.65" x2="405.30" y2="329.65" stroke="#333" stroke-width="0.7"/>
<line x1="403.80" y1="325.99" x2="405.30" y2="325.99" stroke="#333" stroke-width="0.7"/>
<line x1="403.80" y1="323.39" x2="405.30" y2="323.39" stroke="#333" stroke-width="0.7"/>
<line x1="403.80" y1="321.37" x2="405.30" y2="321.37" stroke="#333" stroke-width="0.7"/>
<line x1="403.80" y1="319.72" x2="405.30" y2="319.72" stroke="#333" stroke-width="0.7"/>
<line x1="403.80" y1="318.33" x2="405.30" y2="318.33" stroke="#333" stroke-width="0.7"/>
<line x1="403.80" y1="317.12" x2="405.30" y2="317.12" stroke="#333" stroke-width="0.7"/>
<line x1="403.80" y1="316.05" x2="405.30" y2="316.05" stroke="#333" stroke-width="0.7"/>
<line x1="405.00" y1="418.90" x2="405.00" y2="421.20" stroke="#333" stroke-width="0.7"/>
<line x1="412.94" y1="418.90" x2="412.94" y2="420.40" stroke="#333" stroke-width="0.7"/>
<line x1="417.58" y1="418.90" x2="417.58" y2="420.40" stroke="#333" stroke-width="0.7"/>
<line x1="420.88" y1="418.90" x2="420.88" y2="420.40" stroke="#333" stroke-width="0.7"/>
<line x1="423.44" y1="418.90" x2="423.44" y2="420.40" stroke="#333" stroke-width="0.7"/>
<line x1="425.52" y1="418.90" x2="425.52" y2="420.40" stroke="#333" stroke-width="0.7"/>
<line x1="427.29" y1="418.90" x2="427.29" y2="420.40" stroke="#333" stroke-width="0.7"/>
<line x1="428.82" y1="418.90" x2="428.82" y2="420.40" stroke="#333" stroke-width="0.7"/>
<line x1="430.17" y1="418.90" x2="430.17" y2="420.40" stroke="#333" stroke-width="0.7"/>
<line x1="431.38" y1="418.90" x2="431.38" y2="421.20" stroke="#333" stroke-width="0.7"/>
<line x1="439.31" y1="418.90" x2="439.31" y2="420.40" stroke="#333" stroke-width="0.7"/>
<line x1="443.96" y1="418.90" x2="443.96" y2="420.40" stroke="#333" stroke-width="0.7"/>
<line x1="447.25" y1="418.90" x2="447.25" y2="420.40" stroke="#333" stroke-width="0.7"/>
<line x1="449.81" y1="418.90" x2="449.81" y2="420.40" stroke="#333" stroke-width="0.7"/>
<line x1="451.90" y1="418.90" x2="451.90" y2="420.40" stroke="#333" stroke-width="0.7"/>
<line x1="453.66" y1="418.90" x2="453.66" y2="420.40" stroke="#333" stroke-width="0.7"/>
<line x1="455.19" y1="418.90" x2="455.19" y2="420.40" stroke="#333" stroke-width="0.7"/>
<line x1="456.54" y1="418.90" x2="456.54" y2="420.40" stroke="#333" stroke-width="0.7"/>
<line x1="457.75" y1="418.90" x2="457.75" y2="421.20" stroke="#333" stroke-width="0.7"/>
<line x1="465.69" y1="418.90" x2="465.69" y2="420.40" stroke="#333" stroke-width="0.7"/>
<line x1="470.33" y1="418.90" x2="470.33" y2="420.40" stroke="#333" stroke-width="0.7"/>
<line x1="473.63" y1="418.90" x2="473.63" y2="420.40" stroke="#333" stroke-width="0.7"/>
<line x1="476.19" y1="418.90" x2="476.19" y2="420.40" stroke="#333" stroke-width="0.7"/>
<line x1="478.27" y1="418.90" x2="478.27" y2="420.40" stroke="#333" stroke-width="0.7"/>
<line x1="480.04" y1="418.90" x2="480.04" y2="420.40" stroke="#333" stroke-width="0.7"/>
<line x1="481.57" y1="418.90" x2="481.57" y2="420.40" stroke="#333" stroke-width="0.7"/>
<line x1="482.92" y1="418.90" x2="482.92" y2="420.40" stroke="#333" stroke-width="0.7"/>
<line x1="484.12" y1="418.90" x2="484.12" y2="421.20" stroke="#333" stroke-width="0.7"/>
<line x1="492.06" y1="418.90" x2="492.06" y2="420.40" stroke="#333" stroke-width="0.7"/>
<line x1="496.71" y1="418.90" x2="496.71" y2="420.40" stroke="#333" stroke-width="0.7"/>
<line x1="500.00" y1="418.90" x2="500.00" y2="420.40" stroke="#333" stroke-width="0.7"/>
<line x1="502.56" y1="418.90" x2="502.56" y2="420.40" stroke="#333" stroke-width="0.7"/>
<line x1="504.65" y1="418.90" x2="504.65" y2="420.40" stroke="#333" stroke-width="0.7"/>
<line x1="506.41" y1="418.90" x2="506.41" y2="420.40" stroke="#333" stroke-width="0.7"/>
<line x1="507.94" y1="418.90" x2="507.94" y2="420.40" stroke="#333" stroke-width="0.7"/>
<line x1="509.29" y1="418.90" x2="509.29" y2="420.40" stroke="#333" stroke-width="0.7"/>
<line x1="510.50" y1="419.20" x2="510.50" y2="421.20" stroke="#555" stroke-width="0.6"/>
<line x1="403.00" y1="315.10" x2="405.00" y2="315.10" stroke="#555" stroke-width="0.6"/>
<text transform="translate(386.00,368.20) rotate(-90)" font-size="8.2" text-anchor="middle" font-weight="normal" fill="#000" stroke="#000" stroke-width="0.3">Cells</text>
<text x="442.50" y="442.30" font-size="8.6" text-anchor="start" font-weight="normal" fill="#000"  stroke="#000" stroke-width="0.3">CCR7</text>
<polyline points="406.4,326.0 406.5,360.0 406.5,400.0 407.4,408.2 408.8,405.5 410.8,403.4 413.5,400.1 415.5,396.0 416.9,396.7 418.2,392.0 420.2,382.5 422.3,373.0 424.3,357.9 426.3,345.7 428.3,336.3 430.3,328.2 432.4,320.8 433.7,324.1 434.8,333.6 435.7,324.1 437.1,320.8 438.4,325.5 439.8,332.2 441.1,339.0 442.5,341.0 444.2,334.9 445.2,339.0 446.5,347.0 447.9,355.2 449.2,363.3 450.2,371.0 451.3,383.9 452.9,392.5 454.9,401.4 456.9,408.2 459.6,412.5 462.3,415.2 466.1,417.0 470.0,417.7 490.0,417.9 510.3,417.9" fill="none" stroke="#a4a4a4" stroke-width="0.85" stroke-linejoin="round"/>
<polyline points="406.3,400.0 406.6,405.5 407.0,413.6 408.8,414.6 411.5,412.9 414.2,408.8 416.9,405.5 418.9,404.1 420.2,400.1 422.3,392.0 424.3,382.5 426.3,373.1 427.6,366.5 429.0,357.9 430.3,347.0 431.3,339.0 432.4,330.9 433.7,325.5 434.5,326.5 435.3,324.8 436.1,322.8 437.1,324.8 438.4,326.8 439.4,333.6 440.5,339.0 441.8,343.7 442.9,348.4 444.2,355.2 445.9,361.9 447.2,365.3 448.6,373.1 450.6,382.5 452.6,392.0 454.6,401.4 456.6,408.2 459.3,412.9 462.0,415.6 466.1,417.3 470.0,418.0 490.0,418.1 510.3,418.1" fill="none" stroke="#424242" stroke-width="0.75" stroke-linejoin="round"/>
<circle cx="447.70" cy="325.1" r="0.8" fill="#000"/>
<circle cx="450.60" cy="325.1" r="0.8" fill="#000"/>
<circle cx="453.50" cy="325.1" r="0.8" fill="#000"/>
<circle cx="456.40" cy="325.1" r="0.8" fill="#000"/>
<circle cx="459.30" cy="325.1" r="0.8" fill="#000"/>
<line x1="447.00" y1="333.50" x2="460.60" y2="333.50" stroke="#000" stroke-width="1.0"/>
<text x="462.70" y="326.60" font-size="6.0" text-anchor="start" font-weight="bold" fill="#000" >WT</text>
<g transform="translate(462.70,334.90) scale(0.1)"><text x="0" y="0" font-size="60.0" fill="#000" font-weight="bold">Rho GDI <tspan font-size="61.8" dy="6.0" font-weight="normal" stroke="#000" stroke-width="3.0">α/β</tspan><tspan font-size="60.0" dy="-11.0" dx="2.0"> -/-</tspan></text></g>
</g>
<defs><filter id="soft" x="0" y="0" width="100%" height="100%" filterUnits="userSpaceOnUse"><feGaussianBlur stdDeviation="0.35"/></filter></defs>
</svg>
</body></html>
